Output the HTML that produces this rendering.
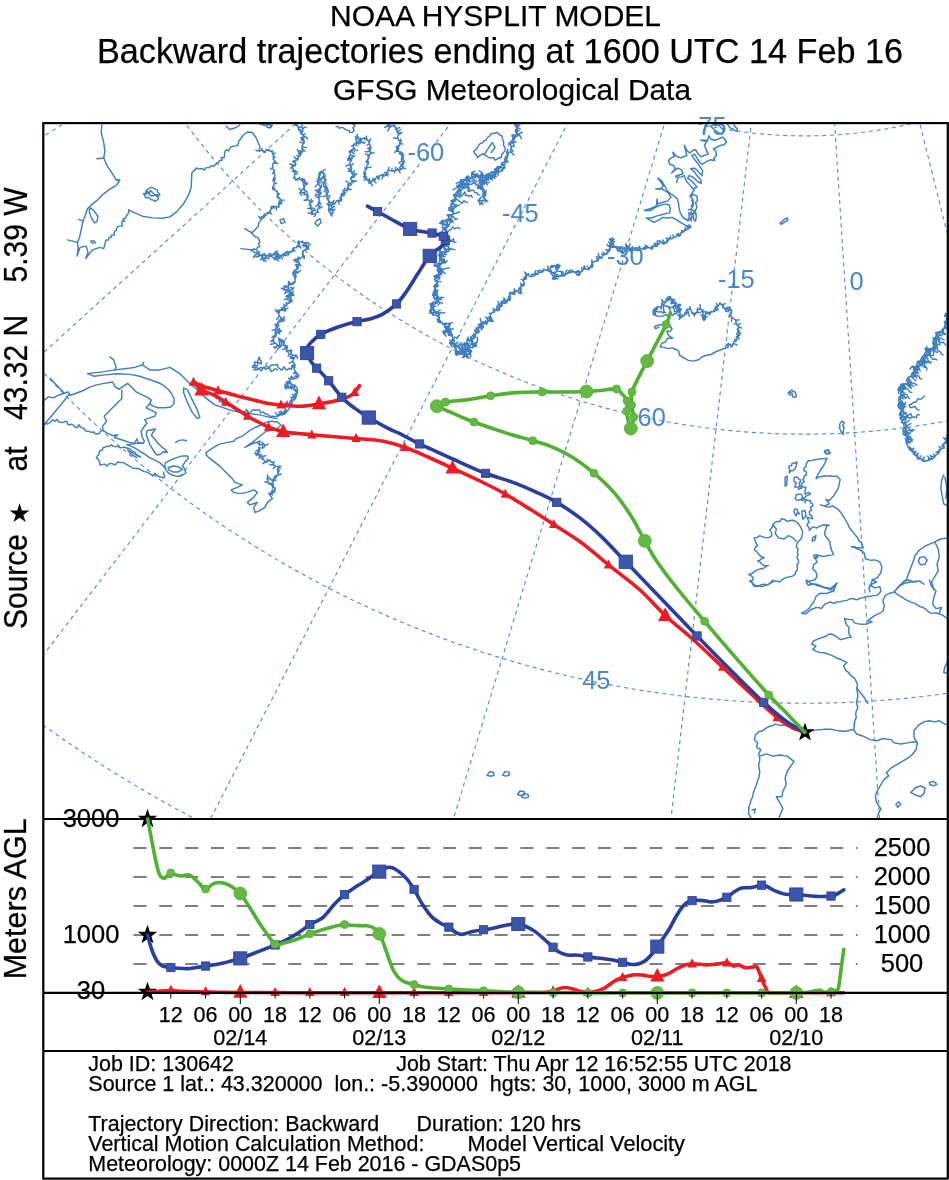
<!DOCTYPE html>
<html lang="en">
<head>
<meta charset="utf-8">
<title>NOAA HYSPLIT MODEL - Backward trajectories</title>
<style>
html,body{margin:0;padding:0;background:#fff;}
body{width:949px;height:1180px;overflow:hidden;}
svg{display:block;}
text{font-family:"Liberation Sans", sans-serif;fill:#000;stroke:#000;stroke-width:0.25px;}
.g{fill:none;stroke:#4f8ccd;stroke-width:1.1;stroke-dasharray:4 3.8;}
.c{fill:none;stroke:#3e7fc1;stroke-width:1.45;stroke-linejoin:round;stroke-linecap:round;}
.gl{fill:#4a87c8;stroke:none;font-size:25.4px;}
.tr{fill:none;stroke-width:3.6;stroke-linejoin:round;stroke-linecap:round;}
.vd{stroke:#7f7f7f;stroke-width:1.8;stroke-dasharray:13 12.8;fill:none;}
.bx{fill:none;stroke:#000;stroke-width:2.2;}
.ln{stroke:#000;stroke-width:2.2;fill:none;}
.tk{stroke:#000;stroke-width:1;fill:none;}
.t21{font-size:21.4px;}
.tl{font-size:21.6px;text-anchor:middle;}
.rl{font-size:25.5px;text-anchor:middle;}
</style>
</head>
<body>
<svg width="949" height="1180" viewBox="0 0 949 1180">
<rect x="0" y="0" width="949" height="1180" fill="#fff"/>
<text x="330" y="25.5" font-size="30" textLength="331" lengthAdjust="spacingAndGlyphs">NOAA HYSPLIT MODEL</text>
<text x="97" y="62.5" font-size="34.2" textLength="806" lengthAdjust="spacingAndGlyphs">Backward trajectories ending at 1600 UTC 14 Feb 16</text>
<text x="333" y="99.7" font-size="29.8" textLength="358" lengthAdjust="spacingAndGlyphs">GFSG Meteorological Data</text>
<defs><clipPath id="mapclip"><rect x="43.3" y="123.1" width="904.5" height="695.7"/></clipPath></defs>
<g clip-path="url(#mapclip)">
<path class="g" d="M688.4 -315.2 L-956.2 15.5"/>
<path class="g" d="M694.5 -294.8 L-864.6 324.4"/>
<path class="g" d="M704.1 -275.8 L-719.3 612"/>
<path class="g" d="M716.9 -258.8 L-525 868.9"/>
<path class="g" d="M732.6 -244.4 L-287.8 1087"/>
<path class="g" d="M750.5 -233 L-15.6 1259.3"/>
<path class="g" d="M770.3 -225 L283.1 1380.1"/>
<path class="g" d="M791.1 -220.7 L598.5 1445.7"/>
<path class="g" d="M812.4 -220.2 L920.6 1453.8"/>
<path class="g" d="M833.4 -223.4 L1238.9 1404.3"/>
<path class="g" d="M853.5 -230.4 L1543.3 1298.7"/>
<path class="g" d="M872 -240.9 L1823.9 1140.4"/>
<path class="g" d="M-780.6 -213.6 A1590.2 1590.2 0 0 0 1926.5 788.6"/>
<path class="g" d="M-499.5 -235.7 A1308.3 1308.3 0 0 0 1727.6 588.8"/>
<path class="g" d="M-233.8 -256.7 A1041.7 1041.7 0 0 0 1539.6 399.8"/>
<path class="g" d="M34.5 -277.8 A772.6 772.6 0 0 0 1349.8 209.1"/>
<path class="g" d="M331.7 -301.3 A474.5 474.5 0 0 0 1139.4 -2.2"/>
<polyline class="c" points="101.9,125 101.2,132.5 103.7,142.5 104.9,151.2 103.7,158 107.4,166.2 112.4,173.7 116.2,179.9 119.4,181.2 116.2,185.4 108.7,189.9 102.4,194.9 96.2,201.2 91.2,204.9 87.5,208.7 85,216.2 83,221.1 81.2,229.9 79.5,237.4 77.5,242.4 78,248.6 77,256.1 80,247.4 86.2,246.1 88,252.4 85.7,258.6 89.5,253.6 92.4,249.9 99.9,247.4 103.7,248.6 105.4,242.4"/>
<polyline class="c" points="105.4,242.4 105.8,239.9 108.4,239.9 109,237.8 111.2,237.4 111.2,235.3 114.5,235.1 114.1,232.8 114.9,231.1 116.4,230.1 116.7,227.9 117.9,226.6 119.9,226.1 122.4,226.1 121.8,223 122.2,220.9 124.9,221.1 123,218.9 125.7,217.8 126.2,216.2 127.6,214.3 128.8,212.4 128.7,209.9"/>
<polyline class="c" points="128.7,209.9 133.7,212.4 142.4,216.2 152.4,217.9 162.4,218.2 169.9,216.9 176.1,212.4 183.6,203.7 188.6,194.9 191.1,187.4 191.6,178.7 191.8,172.9 194.8,170"/>
<polyline class="c" points="194.8,170 196.4,168 198.5,168.9 200.4,168.6 202.3,168.7 204.5,170.1 206,167.7 207.9,167.6 209.8,167.5 211,165.7 213.5,166.4 214.8,165 216.5,163.4 218.6,162.5 219.4,160.8 222.2,160.1 221.1,157.5 224,157.9 224.4,155.8 224.8,153.7 224.9,151.7 226.1,150 228.8,150.8 229.9,148.3 231.4,146.6 233.6,146.2 235.5,145.9 237.3,145.5 238.6,143.7 238.4,141.6 239.8,140"/>
<polyline class="c" points="239.8,140 243.5,135 247.3,132 252.3,132.5 256,137.5 259.8,146.2"/>
<polyline class="c" points="103.7,158 96.9,158.7"/>
<polyline class="c" points="83,221.1 78.7,219.4"/>
<polyline class="c" points="77.5,242.4 67.5,239.9"/>
<polyline class="c" points="116.2,179.9 119.9,179.4"/>
<polyline class="c" points="143.6,193.7 146.5,194 145.8,190.9 147.2,189.7 148.6,188.7 150.6,187.5 152.4,187.6 154,188.4 155.7,189.4 157.4,189.9 157.4,192 159,193.3 159.9,194.9 157.5,195.8 158.4,198.3 157.4,199.9 155.2,201.4 153.5,200.1 151.6,199.8 149.9,198.7 148.4,197.4 145.5,197.7 144.8,195.5 143.6,193.7 145.4,193.1 147,192.4 149,193.9 150.3,190.6 152.4,192.4 153.7,193.8 155.3,194.6 157.4,194.7 158.6,196.2 156.8,196.2 155.3,194.9 153.3,195.8 151.5,196 149.9,194.9 148.7,193 147.4,191.2"/>
<polyline class="c" points="90,207.9 93.7,210.4 97.9,216.2 96.9,221.9 94.4,222.9 91.2,217.4 89.2,211.2 90,207.9"/>
<polyline class="c" points="90.7,241.1 93.7,240.6 95.4,242.9 92.4,243.1 90.7,241.1"/>
<polyline class="c" points="226.1,126.2 229.8,129.5 236.1,127.5 239.8,125"/>
<polyline class="c" points="259.8,123.7 264.8,125.5 268.5,123.7"/>
<polyline class="c" points="269.8,125 271,127.5 272.3,125"/>
<polyline class="c" points="264.8,216.2 263.8,217.6 262.2,218.6 261,219.9 259.9,221.4 258.7,222.9 258.5,224.9 257.9,227 256.2,228.4 254.8,229.9 253.3,231.7 251,232.4 252.3,233.6 253.6,235.3 255.2,236.7 257.3,237.4 258.8,238.7 259.3,240.5 259.8,242.4 258.5,243.8 259.8,246.5 257.3,247.4 256.6,250.2 253.8,248.7 252.3,249.9 251,251.1 252.9,250.4 254.4,252.6 256.2,252.5 258.1,251.4 259.8,252.4 258.5,253.9 256,254 255.2,256.3 253.5,257.4 254.8,255.3 257.1,256.6 258.9,256.2 260.6,255.6 262.3,254.9 264.4,253.6 265.9,256.2 268.1,254.9 269.8,256.1 272,256.7 273.5,258 274.8,259.9 275.1,256.7 277.9,257.5 279.8,256.9"/>
<polyline class="c" points="251,232.4 244.8,228.6"/>
<polyline class="c" points="252.3,249.9 241,248.6"/>
<polyline class="c" points="260,147.5 259,151 262.2,150.3 263.7,151.3 265,152.5 266,149.5 268,150.3 270,151.2 272.7,151 272.5,153.7 273.7,155 273.3,156.9 273.2,159 275.2,161.2 273.4,163 272.5,165 272.9,166.6 272.6,168.5 273.9,169.9 274.1,171.6 274,173.4 275,174.9 274.6,176.9 273.3,178.8 273.2,180.8 274.7,183 273.7,184.9 273.2,187 272.8,189.1 275.2,190.1 277,191.3 277.8,192.9 277.5,194.9 277.3,197.3 279.7,198.5 281.2,200.1 281.2,202.4 278.5,203.2 279.1,205.5 278.7,207.4 277.2,206.4 275.3,206.8 273.7,206.2 271,206.7 271.1,209.4 270,211.2 269.1,213.5 266.5,213.4 265,214.9 264.1,217.1 261.2,216.8 260,218.7"/>
<polyline class="c" points="257.5,256.9 259.4,255.1 261.4,254.7 263.8,260.9 265.5,257 267.5,256.1 269.3,255.4 271.2,255.5 273,254.5 275,254.9 278.5,253.9 275.5,259.3 278.7,258.6 277.4,254.8 280.8,255.7 283.7,256.1 283.7,253.6 285.8,252.6 287.8,251.4 288.7,254.9 288.9,252.4 291.6,251.8 292.5,249.9 293.4,247.7 296.2,247.9 297.5,246.1 299.6,246.2 298.7,241.1 301.6,242.4 303.7,242.4 305.6,243 307.5,242.4 306.2,244.1 304.7,245.6 308.8,249.1 305,249.9 302.8,251.1 302.6,253.4 304.5,256.7 301.2,257.4 300.1,258.9 295.7,259.1 298.7,262.1 299.7,264.4 295.6,264.8 297.5,267.4 297.6,269.1 294.7,270.2 298,272.8 292.5,273.2 295.5,275.7 295,277.3 295.1,279.8 294.9,282 293.6,283.7 291.2,284.8 288.6,281.4 288.3,287.3 286.2,286.1 283.5,289.8 287.3,289.7 289.8,290.3 290,292.3 290.7,294.7 287.9,295.8 288.4,298 287.5,299.8"/>
<polyline class="c" points="295.3,123.7 296.8,124.9 297.8,126.8 299.8,127.4 302.6,127.6 302.9,129.5 302.7,131.8 300.8,133.4 304.8,136.5 301.2,137.7 301.4,139.9 304.2,141.1 303.4,143.6 302.2,145.4 302.3,147.5 302,149.5 302.8,151.8 298.6,152.8 300.5,155.4 298.8,156.4 298.1,158.1 297.5,159.8 293.6,160.6 295.7,163.6 295.3,165.7 291.7,166.9 293.7,169.5 293.9,171.6 295.3,173.2 294.4,175.1 294.6,176.8 295.5,179.9 298.3,178.3 300.1,179.4 302,180.5 305.2,181.9 303.4,184.9 304.4,187.3 302.7,189.3 299.9,192.6 304.5,192.6 304.9,194.5 307.9,195.1 306.8,198 307.9,199.7 309.9,201.1 309.8,203.6 310.8,205.6 311,207.5 311.1,209.5 313,210.7 311.5,214.2 315.2,213.7 317.5,211.5 317.9,209.2 318.9,207 318.9,205 318.2,203 319.7,201.1 318.9,199.2 318.9,197.2 318.9,195.2 321.2,193 317.1,191.5 318.2,189.3 321.6,187.4 319.3,185.4 318.2,183.4 317,181.3 321.5,179.9 318.9,177.5 318.6,175.7 320.3,174.2 319.7,172.4 321.9,171.6 324,173.4 323.4,176.1 323.9,178 326,179.7 324.1,182 323.6,184 323.8,186 324.8,187.9 327.6,189.3 326.1,191.7 326.3,193.8 327.6,195.5 326.8,197.8 327.8,199.7 329.1,201.4 330.9,203.1 329.3,205.6 329,207.3 328.6,209 328.5,210.7 330.1,212.3 330.7,214.4 332.9,212.9 332.3,210.8 332.2,208.5 331,205.1 334.4,204.1 335.6,202 337.4,200.4 340.5,201.1 341.7,199.8 341.1,196.7 341.4,194 344,193 343.1,190.3 347,190.8 347,188.6 348.1,187.1 347.9,184.9 349.2,183.4 352.9,182.6 351.4,180.3 350.6,178.3 354.6,176.8 352.5,174.5 351.4,172.4 351,170.4 351.8,168.3 350.6,166.5 349.8,164.4 349.9,162.4 351.4,160.6 351.8,158.5 348.8,156.9 350.6,154.7 350,152.6 350.2,150.8 352.1,149.5 354,148.2 353.2,146.1 353.6,144.3 357.4,143.5 355.8,139.9 356.8,138.2 357.3,136.2 358.8,137.7 358.8,139.9 361,141.2 360.2,143.6 360.9,141.4 361.7,139.2 364.7,137.7 366.2,139.5 368.4,140.7 369.2,142.8 369.8,145.1 371,147.2 370.6,149.5 369.4,151 371.1,153.4 369.1,154.7 368.1,156.2 368.9,158.3 367.6,159.8 366,161.4 368.6,163.5 366.9,165 366.6,166.8 366.8,168.7 365.4,170.2 364.4,171.8 365.8,173.7 364.7,175.3 366.3,177.3 366.9,179.7 368.7,181.1 369.1,183.4 371.2,182.5 372,180.5 374.6,180.6 375.7,178.3 377.1,176.3 379.4,176.1 381.2,175.1 383.1,174.6 386.1,175.3 386.8,172.4 388.1,170.2 390.5,170.9 392.7,170.6 394.9,170.9 397,169.5 399.3,170.2 401.6,169.2 403,167.2 400.8,164.6 403.8,162.8 401.7,161 401.5,158.4 403.6,154.6 399.3,153.9 400.6,152 396.2,150.9 398.6,148.8 396.1,146.7 399.9,145.4 399.3,143.6 401.2,141.2 398.5,140.1 397.9,138.4 397.5,136.6 398.3,135 398.6,133.3 397.1,131.9 396.8,130 396.4,128.1 394.5,126.7 392.7,125.2 389.3,127.9 388.3,123.7"/>
<polyline class="c" points="280,219.9 283.7,218.7 285,222.4 281.2,223.6 280,219.9"/>
<polyline class="c" points="316.2,221.1 319.9,218.7 321.2,222.4 317.4,226.1 314.9,223.6 316.2,221.1"/>
<polyline class="c" points="335.9,126.6 337.7,126.5 339.2,128.3 341.1,127.4 343.5,127.9 345.5,129.6 347.2,130.2 349.2,130.5 349.9,132.5 352.6,132.4 354.3,130.3 352.9,127.8 355.1,125.9 353.9,124.3 352.1,123.7"/>
<polyline class="c" points="267.5,123.7 271.2,125 270,128 267,127 267.5,123.7"/>
<polyline class="c" points="434.8,299.8 436.4,298 437.3,296.1 433.8,293.6 433.5,291.5 436.1,289.8 434.9,287.9 433.9,286 437,283.6 436.4,281.7 434.8,279.8 435.3,278.2 434.1,276.1 436.8,275 441.8,274.5 439.2,272.1 437.3,269.9 443.3,269.6 434.1,265.5 439.1,265 440.1,263.5 443.2,262.5 439.8,259.9 440.9,258.3 438.3,254.9 441.2,254.3 439.4,251.3 446.1,252.6 444.8,249.9 443.8,247.7 446,246 443.7,243.6 447.3,242.1 446.1,239.9 449.5,237.4 443.4,236.2 441.2,234.4 446.8,231.7 444.8,229.9 443.9,227.7 449,226.4 439.8,223.2 443.6,221.6 446.1,219.9 448.5,218.9 448.7,217.1 447.4,214.7 452.8,214.8 453.7,213.3 449.8,209.9 448.9,207.7 451.7,206.8 450.7,204.5 453.1,203.5 450.9,200.8 453.6,199.9 456.1,198.9 453.4,195.1 457.7,194.9 457.3,192.4 457.9,190.6 461.1,190.6 456.8,185.6 462.8,187.5 462.3,184.9 460.7,180 468.5,186.3 465.8,180 466.1,177.3 469.8,178.7 471.6,178 471.9,172.4 474.7,174.7 477.3,176.2 479.4,176 482.6,172.9 482.4,179.7 484.8,178.7 488.6,180.3 487.3,175.1 489.8,174.9 491.3,174 491.8,171.4 494.9,172.8 494.5,169.1 497.3,170"/>
<polyline class="c" points="449.8,209.9 452.2,210.6 453.2,208.5 454.9,207.7 456.4,206.4 458.1,205.6 459.8,204.9"/>
<polyline class="c" points="453.6,199.9 455.3,200.1 457.2,199.4 458.7,200.8 460.3,201.8 461.8,203.5 464,200.8 465.6,201.8 467.3,202.4"/>
<polyline class="c" points="457.3,192.4 459,193 459.8,196 461.5,196.4 464.9,191.9 465.5,195.7 467.5,195.1 469,196.3 471.1,195.3 472.3,197.4"/>
<polyline class="c" points="462.3,184.9 464.1,185.5 465.9,186 467.3,187.2 469.1,187.8 469.1,191.5 472.1,189.8 473.8,190.7 474.8,192.5 476.8,192.7 477.8,194.6 479.8,194.9"/>
<polyline class="c" points="469.8,178.7 469.3,182 472.6,180.9 473.6,182.5 475.6,182.8 476,185.1 478.1,185.3 477.6,188.7 481.9,186.4 481.9,189 482.6,191 484,192.1 486,192.4"/>
<polyline class="c" points="477.3,176.2 478.3,177.9 480.6,178.2 481.4,180.2 481.8,182.6 485.9,180.7 486.2,183.3 487.3,184.9"/>
<polyline class="c" points="446.1,219.9 447.9,219.8 450.1,221.9 451.4,216.8 453.3,216.4 455.5,219.5 457.3,218.7"/>
<polyline class="c" points="446.1,229.9 448,232.1 449.5,229.8 451.2,229.5 452.7,227 454.6,228.9 456.3,227.9 458,227.6 459.8,228.6"/>
<polyline class="c" points="446.1,239.9 448.3,238.1 449.3,241 451.1,240.9 453.4,238.8 454.3,242.5 456.1,242.4"/>
<polyline class="c" points="444.8,249.9 446.8,250 448.8,249.7 450.8,248.9 452.8,249.1 454.8,249.9"/>
<polyline class="c" points="439.8,259.9 441.8,259.6 443.7,259.6 445.3,261.8 447.3,261.1"/>
<polyline class="c" points="437.3,269.9 438.5,273 441.1,272.4 443.6,272.3"/>
<polyline class="c" points="480,204.9 479.8,202.9 478.2,200.4 483.5,200.5 485.6,199.4 482.7,196.4 483.7,194.9 482.8,193.4 484.7,191.1 484,189.6 482,188.3 477.6,187.6 481.2,184.9 479.5,180.7 481.5,180.2 486.3,182.5 486.2,179.9 486.2,176.3 487,174.1 489.9,175.5 492.5,176.2 493.3,174.5 496,174.7 494.9,171.1 498.8,172.5 498.7,170 497.3,166.8 502.4,168 505.1,167.7 501.4,163.1 503.7,162.5 505.2,160.9 505,158.4 505.9,156.5 507.5,155 506.6,152.2 511,152 510.7,149.5 511.2,147.5 511,145.5 509,142.8 513.9,142.8 512.5,140.4 512.7,138.5 515,137.5 511.9,135 519.7,135.1 516.2,132.5 515.3,130.5 516.4,129 517.5,127.5 515.3,126.2 515,123.7"/>
<polyline class="c" points="478.8,145 480.4,143.4 482.7,142.7 484,140.7 486.2,140 487.4,137.5 489.8,136 491.2,133.7 494.4,133.3 497.5,132.5 499.3,134.5 501.9,135.8 502.5,138.7 503.4,140.8 503.7,143.1 503.6,145.5 505,147.5 505.3,150.4 503.4,152.6 501.7,154.8 501.2,157.5 499,157.9 497.1,159.2 495,160 493.5,157.6 490.9,158 488.7,157.5 486,155.9 483.7,153.7 481.4,154.5 479.4,155.9 477.5,157.5 476.6,155.2 474.8,153.4 473.8,151.2 476,149.6 477.7,147.5 478.8,145"/>
<polyline class="c" points="485,153.7 488.7,147.5 492.5,142.5 495,147.5 491.2,152.5"/>
<polyline class="c" points="510,298.6 510.3,296.3 509.4,293 514.4,294.4 515,292.3 516.6,290.5 520.3,293.7 521.2,289.8 520.2,287.4 522.2,286 524.7,284.8 523.7,282.3 523.5,279.5 526.2,278.6 526.7,273.9 530.3,276.7 532.4,276.1 534.5,275.9 535.1,273.4 537.8,274.5 538.7,272.3 540.8,272.4 542.6,271.7 544.3,270.3 546.2,269.9 549.3,271.6 550.2,267.9 552.4,267.4 554,265.4 557.8,268.8 558.7,264.9 557.2,266.5 555.5,268 557.4,271.3 554.9,272.3 550.9,273.2 554.4,277 552.4,278.6 554.8,279.5 555.7,276 558.1,276.9 559.9,276.1 561.8,275.5 564,276 565.4,273.9 567.4,273.6 569.1,272.3 571.1,272.6 572.8,271.3 574.9,272.3 577.3,275.1 579.2,275.3 580.6,272 582.4,271.1 583.6,268.9 586,268.9 588.8,269.8 589.9,267.4 592.3,267.3 591.5,264 592.5,262.5 594.1,261.6 596.1,261.1 598.2,260.5 598.5,257.6 601.6,258.3 602.4,256.1 603.7,254.6 606.1,254.3 607.7,253.2 608.6,251.1 610,249.5 610.1,247.7 611.4,246.1 610,244 611.5,242.4 611.3,240.5 611.1,238.6 611.4,240.4 613.1,241.9 613.1,243.7 608.3,246.2 612.4,247.4 614.6,247 616.9,246.6 617.4,249.9 619.5,248.7 621,250.9 622.5,253.8 624.9,251.1 626.7,249.6 628.4,247 631,251.8 632.4,246.8 634.8,249.9"/>
<polyline class="c" points="634.8,249.9 636.9,250.4 638.9,250.6 640.8,249 642.8,248.6 644.8,249.4 646.2,247.8 647.9,247.5 649.8,247.7 652.2,249.3 653.2,246.8 654.8,246.1 656.8,246.3 658.1,244.7 659.5,243.3 660.6,241.3 663.5,244 664.8,242.4 667.1,242.4 668.3,240.3 669.5,238.4 672,238.6 673.6,237.4 675.5,237.1 676.5,235.3 679.2,236.1 680.6,235 681,232.4 683.3,232.2 684.8,230.5 686.7,229.6 688.5,228.6 690.1,227.7 691,226.1"/>
<polyline class="c" points="690.6,227.5 686.8,226.2 681.7,223.1 676.7,219.9 671.6,217.4 667.8,218 662.8,217.4 659,219.9 653.9,222.4 649.5,219.9 646.3,218 651.4,218 656.4,216.1 661.5,214.8 665.3,213.6 669.7,212.9 670.3,208.5 669.1,204.7 665.3,204.1 660.2,205.4 655.2,207.3 650.7,210.4 644.4,210.4 650.7,208.5 656.4,206 657.1,199 657.7,204.1 662.8,202.2 667.8,200.9 671,197.1 668.5,193.3 665.3,190.8 661.5,188.9 655.8,188.9 661.5,188.3 663.4,185.8 660.9,182 657.7,178.2 661.5,180.7 664.7,185.8 667.2,190.8 671,194 674.1,195.9 677.3,199 678.6,203.5 679.2,208.5 680.5,213.6 683.6,218 688.1,220.5 689.3,216.1 688.7,212.9 693.1,213.6 693.7,219.9 695.6,221.2 696.3,216.1 695,211 696.9,207.3 695.6,202.2 697.5,200.9 696.9,195.9 693.1,194.6 690.6,195.9 692.5,192.1 694.4,190.2 692.5,188.3 689.9,185.1 687.4,182.6 685.5,179.4 684.3,175.6 681.7,176.9 677.9,177.5 676.7,182.6 677.9,177.5 675.4,176.3 679.2,175 683,173.7 681.7,169.9 677.9,168.1 674.1,170.6 671.6,173.1 675.4,168.1 673.5,165.5 669.7,164.3 668.5,160.5 671,157.9 674.1,156.7 672.9,152.2 676,156 680.5,157.9 683.6,156.7 686.8,155.4 685.5,150.3 684.3,145.3 687.4,151 689.9,152.9 693.1,150.3 695.6,149.7 698.2,154.1 700.7,156.7 704.5,155.4 708.3,154.1 705.8,149.1 704.5,144.7 707,141.5 700.7,140.2 707.7,140.2 708.9,135.8 710.8,139 714.6,140.2 718.4,139 722.2,137.1 724.7,139 726.6,142.1 724.1,144.7 720.9,145.3 717.1,147.2 713.3,149.1 715.9,151.6 716.5,155.4 714,157.9 714.6,160.5 710.2,159.8 706.4,161.7 702,164.3 699.4,161.7 696.9,157.9 694.4,154.1 691.8,155.4 694.4,159.2 697.5,163 700.1,166.8 702.6,170.6 702,175.6 699.4,173.1 696.9,169.9 694.4,168.1 690.6,168.7 694.4,171.8 696.9,175.6 700.7,179.4 701.3,183.2 698.2,182 695.6,179.4 692.5,176.9 689.3,175.6 687.4,178.2 691.2,180.7 694.4,183.9 696.9,187 693.1,188.9"/>
<polyline class="c" points="703.2,132.6 704.5,127.6 707,121.3"/>
<polyline class="c" points="710.8,126.3 714.6,130.1 718.4,132.6 722.2,133.9 723.5,130.1 720.9,127.6 718.4,125.1 715.9,123.2 710.8,126.3"/>
<polyline class="c" points="727.3,123.8 729.8,127.6 733.6,129.5 736.7,131.4 737.4,128.9 734.8,126.3 733.6,123.2"/>
<polyline class="c" points="689.9,195.9 691.3,197.3 692.5,199 693.1,200.9 692.4,203 693.4,205.4 691.8,207.3 691.6,209.6 694.1,211.2 693.7,213.6 690.9,214.7 692.1,217.2 690.9,219 691.2,221.2"/>
<polyline class="c" points="779.8,223.6 783.6,219.9 787.3,217.9 787.8,220.4 784.8,221.9 781.1,224.4"/>
<polyline class="c" points="189.9,383.7 179.9,373.7 169.9,367.4 159.9,369.9 149.9,369.9 142.4,364.9 134.9,367.4 124.9,368.7 114.9,369.9 102.4,371.9 93.7,372.9 87.5,373.7 93.7,376.2 104.9,374.9 117.4,373.7 129.9,374.4 139.9,376.2 149.9,379.9"/>
<polyline class="c" points="114.9,369.9 116.2,367.4 113.7,359.9 109.9,356.9"/>
<polyline class="c" points="142.4,364.9 143.6,362.4"/>
<polyline class="c" points="183.6,387.9 187.4,389.9 192.3,399.9 197.3,409.9 199.8,417.4 197.3,418.6 192.3,412.4 187.4,402.4 183.6,392.4 183.6,387.9"/>
<polyline class="c" points="189.9,383.7 196.1,388.7 202.3,394.9 209.8,401.1 214.8,404.9 222.3,407.4 229.8,409.9 239.8,412.4 249.8,413.6 259.8,414.9 269.8,417.4 277.3,418.6"/>
<polyline class="c" points="259.8,357.4 258.7,359 257.7,360.6 257.3,362.4 254.3,362 255.3,365.5 252.9,365.5 252.3,367.4 254.5,367.1 256.4,367.6 258.2,368.5 259.8,369.9 261.7,370.1 263.2,367.2 265.5,369.3 267.3,368.7 269.4,367.9 271,371.5 273.1,370.4 275.4,368.5 277.3,369.9"/>
<polyline class="c" points="293.7,287.5 292.7,289 290.5,290.1 288.7,291.3 293.9,295.2 289.9,295.6 290,297.5 292.1,300.8 290.3,302.4 287.5,303.7 286.2,305.9 283.7,306.2 285.7,310.8 282.5,310 280,310 279.4,312 278.7,314 278.9,315.9 281.2,317.5 284.2,320.5 280.7,321.5 277.4,322.5 278.7,325 277.9,326.8 276.1,328.4 281.5,331.2 277.5,332.5 276,334 275.9,336.4 273.5,337.5 273.7,340 273.9,342.5 276.2,343.7 280.1,347.5 278.8,338 282.5,341.2 284.3,341.9 283.7,344.9 285.6,345.5 287.5,346.2 286.9,348.7 286.3,351.1 291.6,350.1 291.2,352.4 291,354.9 296.1,355.3 293.7,358.7 292.6,361.1 293.7,363 294.9,364.9"/>
<polyline class="c" points="294.9,367.4 292.2,365.4 291.4,369.4 289,368.2 287.5,369.9 285.6,369.3 284.1,366.8 281.6,370.2 280,368.7 278.1,367.6 277.3,364.5 274.8,364.9 272.5,364.9 270.6,365.5 269.3,367.9 266.6,366 265,367.4 262.9,367.6 260.7,367.5 258.7,368.7 257.2,369.7 255.4,369.5 253.7,369.9 255,368.4 256,366.6 257.5,365.2 257.7,362.5 261.2,363.7 261.3,361.2 259.7,359.4 258.7,357.4"/>
<polyline class="c" points="294.9,364.9 294.4,366.9 294.2,368.9 294.9,370.7 296.2,372.4 298.9,375.9 297.4,377.7 293.7,378.7 291.4,379 289.7,380 289.9,383.5 287.5,383.7 288.3,386.9 285,387.4 286.9,387.3 288.9,388.2 290.5,386.1 292.4,386.2 294.5,386.6 293.8,389.8 296.2,389.9 297.7,392 296.7,394.1 296.2,396.1 294,396.5 294.7,399.7 292.4,399.9 290.7,400.7 291.8,404.3 288.7,403.6 285.2,402.7 286.3,406.3 285,407.4 285.5,409 286.1,410.6 286.2,412.4 284.5,413.9 282.5,414.9 280.6,414.3 278.8,414.5 277.5,416.1"/>
<polyline class="c" points="433.6,292.5 432.7,295.3 436.9,295.5 438.2,297.2 437.3,300 436.8,301.8 434.2,302.2 432.6,303.4 430,303.8 432.3,307.5 430.1,310.9 430.1,313.3 436.6,312.3 436.1,315 438,316.3 439.4,318 437.4,321.3 439.8,322.5 442.2,322.6 442.9,324.3 444.9,324.9 444.8,327.5 447.5,327.2 443.5,333.7 449.8,329.9 449.8,332.5 448.3,335 452.1,335.8 452.9,337.7 452.3,340 449.6,342.9 452.9,343.9 454.1,345.6 454.8,347.4 456.2,348.8 455.6,351.9 455.6,354.4 459.8,353.7 463.5,350.5 465.5,350.6 464.8,356.2 467.6,356.4 465.3,349.9 469.8,352.4 471.6,351.4 467.4,346.8 472.7,347.8 473.5,346.2 476.2,346.4 475.5,343.2 477.3,342.4"/>
<polyline class="c" points="437.3,300 439.5,299.5 441.1,297.4 443.5,297.5"/>
<polyline class="c" points="436.1,315 438.3,316.3 439.6,314.1 441,312.4 443.1,313.1 444.8,312.5"/>
<polyline class="c" points="444.8,327.5 446.1,326.2 449.2,327.5 449.7,325.1 450.6,323.1 452.3,322.5"/>
<polyline class="c" points="452.3,340 453.6,338.7 454.7,337.1 457.4,337.9 458.3,336 459.8,335"/>
<polyline class="c" points="454.8,347.4 455.8,345.1 458.9,348.3 459.1,343.8 461.7,345.7 463.1,344.2 464.8,343.7"/>
<polyline class="c" points="459.8,353.7 461.3,352.3 464,352.5 464.5,349.9 466,348.7"/>
<polyline class="c" points="206.2,452.4 213.7,447.4 218.7,444.4 227.4,442.4 233.7,441.2 236.2,438.7 242.4,436.2 248.7,431.2 254.9,427.5 261.1,425 266.1,422.5 271.1,421.2 277.4,422 281.1,425 277.4,428.7 272.4,430 266.1,431.2 259.9,436.2 252.4,442.4 244.9,447.4 252.4,443.7 259.9,441.2"/>
<polyline class="c" points="259.9,441.2 259.4,445.3 263.2,443.8 264.9,444.9 264.3,447 262.5,448.1 258.6,447.6 259.9,451.2 258.4,452.2 258.5,454.7 256.2,454.9 258.8,454.4 260.4,456.3 262.4,457.4 263.1,459.5 264.7,460.9 266.1,462.4 267.7,460.7 269.9,459.9 271,461.7 273.3,462.6 273.6,464.9 275.3,466.3 278.5,466.4 277.4,469.9 277.8,472.5 278.3,475.1 274.9,476.2 273.9,477.6 273.9,480.2 271.1,479.9 269.5,478.3 267.4,477.4 267.2,479.6 268.1,481.6 268.6,483.6 270.2,484.4 272,484.5 273.6,484.9 272.7,486.9 275.1,488.1 274.9,489.9 274.5,492 271.4,491.4 271.7,494.2 269.9,494.9"/>
<polyline class="c" points="269.9,494.9 272.4,498.6 267.4,502.4 264.9,507.4 258.7,511.1 254.9,512.4 253.7,507.4 257.4,502.4 249.9,504.9 247.4,502.4 253.7,497.4 257.4,492.4 253.7,489.9 247.4,492.4 239.9,493.6 233.7,492.4 231.2,489.9 237.4,487.4 242.4,484.9 234.9,482.4 232.4,478.7 228.7,474.9 224.9,471.2 219.9,466.2 214.9,462.4 210,458.7 206.2,454.9 206.2,452.4"/>
<polyline class="c" points="216.2,398.7 219.1,397.6 219.2,401.6 221.3,401.9 222.9,403.3 224.9,403.7 226.8,404.1 228,405.8 230.1,406 231.7,406.7 233.5,407.4 234.9,408.7 235.9,411.2 238.2,410 239.2,412.4 241.2,412.3 243.4,411.4 244.9,412.5 246.4,409.3 249.5,413.9 251.2,411.2 253,409.7 255.3,410.2 257.4,410 259.7,410 260.6,412.9 263.4,412 264.9,413.7 266.9,414 268.5,415.3 270.3,416.4 272.4,416.2 274.4,416.5 276.2,416.3 278.1,416 279.9,415 281.3,412.6 284.3,413.9 286.1,412.5 287.4,410.8 288.8,409.2 289.9,407.5 291.4,405.7 291.8,403.4 292.4,401.2 293.5,399.5 295.3,398.2 296.1,396.2 296.3,394.1 296.7,392 297.4,390 297.2,388 295.7,386.7 294.9,385 292.8,384.9 291.1,384.2 289.9,382.5 287.2,381.4 286.1,383.4 284.9,385"/>
<polyline class="c" points="951.8,315 945.7,313.5 945.4,315.6 948.7,320 946.4,320.9 944.4,321.9 945.5,325 944.5,326.5 944.1,328.4 942.3,329.4 941.8,331.2 938.8,332 935.6,332.8 938.3,336.5 938,338.7 932.9,338.1 936.3,342.3 932.8,342.7 933.9,345.6 933,347.4 933.1,350 928.6,348.8 925.2,348.5 926.8,352.4 926.8,354.9 924.1,354.7 925.6,358.7 923,358.6 924.9,363 920.5,361.2 917.4,361.4 920.7,365.5 916.4,365.1 916.8,367.4 912,366.2 917.4,373 913.1,372.1 911.8,373.7 911.5,376 909.2,376.7 907.8,378.1 906.8,379.9 908,383.6 905.9,384 903.1,383.7 901.8,384.9 900.9,386.8 898.7,387.8 898.1,389.9 902.7,391 900.4,393.4 901.1,395.2 899.3,397.4 898.6,399.2 898.9,401.2 900.7,403.4 898.1,404.9 898.3,406.9 899.6,408.5 904,409.1 900.6,412.4 899.2,414.9 902.8,415.8 900.2,418.7 903.1,419.9 901.5,422.5 904.9,423.4 906.3,425 905.6,427.4 903.3,428.9 903.4,430.8 906.3,433.3 904.3,434.8 906.5,436.2 906.6,438.2 908.1,439.8 906.8,442.3"/>
<polyline class="c" points="938,338.7 939.7,339.7 939.6,342.9 942.7,342.2 944.3,343.4 945.5,344.9"/>
<polyline class="c" points="933,347.4 935.6,347 937.3,347.7 937.4,350.6 939.1,351.2 940.6,352.2 941.4,354.1 943,354.9"/>
<polyline class="c" points="926.8,354.9 928.7,355.3 930.4,356 931.6,357.8 932.9,359.3 935.2,359 936.8,359.9"/>
<polyline class="c" points="920.5,361.2 921.5,362.7 924.6,362.7 924.5,365 924.2,367.3 926.7,367.8 926.8,369.9"/>
<polyline class="c" points="911.8,373.7 914.6,372.3 914.8,375.9 917.1,375.5 918.9,376.1 919.8,378.5 921.8,378.7"/>
<polyline class="c" points="906.8,379.9 908.8,380.1 910.6,380.7 911.5,383.1 913.6,382.9 915.2,384 916.8,384.9"/>
<polyline class="c" points="901.8,384.9 903.1,386.2 903.2,389 905.9,388.4 907.6,389 908.7,390.6 909.9,392 911.8,392.4"/>
<polyline class="c" points="899.3,397.4 901.5,395.7 903.6,395.8 905.3,398.4 907.6,396.1 909.3,398.6"/>
<polyline class="c" points="909.3,404.9 911,404.3 912.4,403.3 913.8,402.2 915.8,402.3 916.9,400.7 917.8,398.8 920,399.1 921.7,398.7 923,397.4 924.3,396.1"/>
<polyline class="c" points="909.3,404.9 910.1,407.4 912.2,407.4 914.7,406.5 916.1,408 917.3,409.7 919.3,409.9"/>
<polyline class="c" points="900.6,412.4 902.7,412.1 904.4,413.4 906,414.7 907.8,415.6 910.6,413.5 911.8,416.1"/>
<polyline class="c" points="903.1,419.9 904.9,419.3 906.4,417.9 908.1,417.1 910.5,418.3 912.1,417.2 914,416.8 916.3,417.9 917.2,414.5 919.3,414.9"/>
<polyline class="c" points="905.6,427.4 907.5,427 909.1,428.3 910.3,430.5 912.5,429.7 914.3,429.9"/>
<polyline class="c" points="904.3,434.8 906.3,435.1 907.2,437 907.4,440 910.7,438.2 911.8,439.8"/>
<polyline class="c" points="788.2,392.4 790.2,391.3 791.9,389.9 792.8,391.5 795,391.8 795.7,393.6 796.3,396.8 793.2,397.4 792.3,394.6 789.4,394.9 788.2,392.4 790.5,392.3 792.4,393.6"/>
<polyline class="c" points="839.4,424.9 840.6,422.9 841.9,421.1 844.4,422.5 842.6,425.6 844.4,427.4 843.6,429.1 843.3,431 843.1,432.9 843.1,434.8 842.3,433.2 841.1,431.7 840.6,429.9 839.4,428.4 840,426.5 839.4,424.9"/>
<polyline class="c" points="824.4,451.1 828.1,449.8 829.4,453.6 825.6,453.6 824.4,451.1"/>
<polyline class="c" points="652.9,313.2 654.5,312.7 653.9,309.8 654.8,308.5 657.3,308.8 657.3,306.6 660.9,307.4 661.8,305.9 661.7,303.6 662.8,301.4 664.9,301.4 666.9,301.4 666.9,299.8 667.3,298.3 668.4,297 670.5,296.4 670.7,299.6 672.8,299.2 670.8,303.7 674,302.9 676.5,302.9 673.7,306.1 680.6,304.5 678.7,307.3 679.4,308.7 676.2,311.4 680.2,311.7 680,314.1 677.9,315.4 680.4,316.6 679.4,319.1"/>
<polyline class="c" points="653.6,313.9 655.4,314.3 655.6,310.4 658,312.1 659.5,311.7 661.5,311.8 663.3,313.1 665.4,312.5 663.8,311.4 663.8,309.6 663.2,308 663.5,304.9 666.2,306.6 667.6,305.8 668.3,307.3 670,308.3 669.8,310.2 669,306.9 672,307.4 673.5,306.6 673.6,308.3 674.4,309.9 674.3,311.7 676.2,311.5 677.2,313.2 675.7,313.9 673.8,313.8 672.8,315.4 670.9,314.5 668.7,315.9 666.9,314.7 665.1,315 663.5,316 661.7,316.1 659.7,316.1 657.7,316.4 655.8,315.4 653.8,315 652.9,313.2"/>
<polyline class="c" points="679.4,319.1 681.6,316.9 684.6,315.4 684.6,313.2 688.6,312.4 686.8,309.5 689.7,308.8 691.5,310.7 692,313.2 694.9,314.7 696,313 697.4,311.5 697.9,309.5 700.8,308.8 701.8,311.1 703,313.2 702.7,315.1 704.3,316.8 703.6,318.7 703.8,320.6 705.3,319.1 705.8,317.3 705,315.2 705.6,313.5 706,311.7 708.3,312.6 709.7,314.7 710.4,312.4 712.6,311.7 714.6,311.3 716.3,310.2 715.3,307 718.5,305.8 719.9,302.9 722.2,305.1 722.9,307.5 725.2,308.8 725.9,311 728.1,311.7 729.6,310.2 731.8,310.2 731.4,312.6 730.3,314.7 731.4,316.8 733.3,318.4 735.6,320 736.2,322.8 737.2,325.3 739.2,327.2 737.3,329.2 739,331.1 739.2,333.1 739.4,335.4 737.3,336.9 737,339 736.3,341 733.8,341.4 733.3,343.4 732.6,346.1 728.1,343.5 728.1,347.1"/>
<polyline class="c" points="728.1,347.1 722.2,349.3 716.3,351.5 711.1,354.5 706.7,355.2 702.3,356.7 698.6,359.7 693.4,361.1 688.3,360.4 683.1,357.4 679.4,355.2 678.7,350.8 675.7,349.3 672,347.9 667.6,348.6 663.9,347.1 660.2,347.1 661.7,343.4 665.4,342 667.6,338.3 672.8,338.3 668.4,335.3 666.9,330.9 669.8,331.6 672,328.7 669.8,325.7 665.4,324.3 659.5,325 655.8,325.7 654.3,327.2 655.8,328.7 658.8,327.2"/>
<polyline class="c" points="808.3,460.8 811.6,460.4 814.9,459.7 818.2,459.3 821.5,458.6 824.3,458.9 827,458.2 826.1,460.7 824.8,463 823.5,466 821.5,468.5 819.8,471.3 818.2,474 816,478.5 819.1,476.9 822.6,476.2 825.1,475.7 827.7,476.1 830.3,475.8 833.6,476.4 836.9,476.2 840.2,479.6 839.5,482.3 839.1,485.1 838.3,487.9 836.9,490.6 835.2,493.3 833.6,496.1 831.4,498.3 829.2,500.5 825.9,499.4 827.8,501.4 829.2,503.8 824.8,506 820.4,504.9 823.8,505.7 827,507.1 829.8,506.8 832.5,506 835.3,507.6 838,509.3 840.3,511.9 842.4,514.8 844.1,517.5 845.7,520.3 847.6,523.5 849,526.9 851.1,529.7 853.4,532.4 855.4,535.3 857.8,537.9 858.8,540.6 861.1,542.3 862.2,545.1 863.3,547.8 860,547.8 857,547.8 854.2,546.7 851.2,546.7 854.3,547.4 857.1,548.9 860,550 862.5,551.4 864.4,553.3 864.7,556.1 865.5,558.8 868.8,559.9 871.6,560.2 874.3,559.9 877.3,560.6 879.8,562.1 881.1,564.8 882,567.6 881.2,570.3 880.9,573.1 879,575.1 877.6,577.6 875,578.8 872.1,579.8 876.5,582 872.1,584.2 868.8,587.5 869.9,591.9"/>
<polyline class="c" points="808.3,460.8 807.1,462.5 806.1,464.2 806.1,466.3 804.1,468.1 803.9,470.7 806.5,472.2 806.1,475.1 804.2,476 804,478.2 802.8,479.6 804.3,481.8 801.5,483.1 801.7,485.1 802.6,487 806,487.4 805,490.6 805.2,494.3 808.8,492.4 810.5,493.9 808.4,495.1 806.1,496.1 804.4,498.2 801.7,498.3 801.9,500.4 805.9,499.7 805,502.7 806,499.8 808.3,500.5 810.5,500.5 810.3,502.7 812.7,503.9 812.7,506 810.5,507.2 811.4,510.2 809.4,511.5 809.6,514.1 811.6,515.9 812.6,518.9 807,517.1 808.3,520.3 809.1,522.4 807.3,523.9 807.2,525.8 809,527.6 809.4,530.2"/>
<polyline class="c" points="809.4,530.2 812.7,526.9 817.1,528 820.4,525.8 824.8,524.7 829.2,525.1 826.5,526.3 825.9,529.1 824.8,531.7 824.8,534.6 826,537.1 828.1,539 829.7,541.6 830.3,544.5 830.7,547.3 831.4,550 833.6,554.4 830.9,555.1 828.1,555.5 823.7,556.6 821,555.7 818.2,555.5 814.9,557.7 817.1,562.1 813.8,564.3 812.7,568.7 816,572 817.1,576.5 814.9,579.8 810.5,580.9 806.1,582 808.3,585.3 812.7,584.2 816.1,584.1 819.3,585.3 822,586.4 824.8,587.5 827.6,587.8 830.3,588.6 832.4,586.8 834.7,585.3 836.9,583.1 835.4,585.8 834.2,588.7 833.6,591.9"/>
<polyline class="c" points="788.5,467.4 789.5,465.9 791.6,465.7 792,463.4 794,463 795.7,462.8 797.3,461.9 796.3,464 796.2,466.3 795.3,468 794.3,469.5 792.9,470.7 790.4,470.6 789.6,472.9 789.4,471.1 789.8,469.1 788.5,467.4"/>
<polyline class="c" points="785.1,477.3 787.3,476.2 786.7,485.1 785.1,486.2 785.1,477.3"/>
<polyline class="c" points="794,479.6 794.5,476.9 797.3,477.3 798.6,478.9 800.8,480.2 799.5,482.9 799.5,485 800.9,486.5 801.7,488.4 799.9,488.5 798.4,489.5 799.1,486.6 795,487.4 795.1,485.1 796.7,482.8 794,481.4 794,479.6"/>
<polyline class="c" points="796.2,495 798.3,494.2 800.6,493.9 801.9,495.4 802.8,497.2 802.3,499.5 799.9,499.5 798.4,500.5 796.4,499.9 795.1,498.3 795.9,496.7 796.2,495"/>
<polyline class="c" points="794,511.5 794.6,508.9 797.3,509.3 797.6,511.9 799.5,513.7 796.9,513.4 796.2,515.9 794.8,513.8 794,511.5"/>
<polyline class="c" points="801.7,511.5 805,510.4 806.1,515.9 802.8,519.2 801.7,511.5"/>
<polyline class="c" points="824.8,450.9 828.1,449.8 830.3,453.1 827,454.2 824.8,450.9"/>
<polyline class="c" points="812.7,537.9 816,535.7 814.9,540.1 812.2,541.2 812.7,537.9"/>
<polyline class="c" points="813.8,555.5 817.1,554.4 817.5,557.7 814.4,558.2 813.8,555.5"/>
<polyline class="c" points="754.3,537.9 757.3,537.4 759.8,535.7 761.9,536.7 764.2,537.1 766.4,537.9 769.4,537.4 771.9,535.7 771.4,532.7 769.7,530.2 771.8,527.7 773,524.7 774.9,522.6 777.4,521.4 779.9,521.4 781.5,518.8 784,519.2 787.3,521.4 790,520.5 792.9,520.3 795.2,521.2 797.3,522.5 799,524.7 800.6,526.9 801.8,529.6 802.8,532.4 802,535.1 801.7,537.9 800.2,539.8 798.4,541.2 797.1,543.9 796.2,546.7 798.2,549.2 797.3,552.2 798.1,554.7 796.9,557.5 798.4,559.9 798.6,562.6 796.9,565 797.3,567.6 797.3,570.1 795.7,572 795.1,574.3 791.8,576.5 789,576.9 786.2,577.6 784,578.6 781.8,579.8 779.4,582.1 776.3,580.9 773.3,581.3 770.8,583.1 768.7,584.1 766.6,584.6 764.2,584.2 761.2,584.6 758.7,586.4 755.8,586.5 753.2,585.3 752.1,582.6 749.9,580.9 752.6,580.3 753.2,577.6 751.1,575.8 748.8,574.3 751.4,573.8 753.4,572.4 755.4,570.9 758.1,569.6 760.9,568.7 763.8,568.3 766,566.4 768.6,565.4 766.3,565.6 764.1,565.5 762,564.3 760.2,562.1 757.6,561 759.9,560.1 761.8,558.5 764.2,557.7 761.2,556.6 758.7,554.4 756.8,551.9 754.3,550 755.4,547.4 757.6,545.6 756.3,543.5 755.4,541.2 754.3,537.9"/>
<polyline class="c" points="773,524.7 776.3,529.1 775.2,533.5 778.5,537.9 784,539 788.5,535.7 792.9,537.9 796.2,541.2"/>
<polyline class="c" points="904.1,434.4 905.8,433.4 907.4,432.2 909.6,433.7 911.1,431.6 912.9,431.1"/>
<polyline class="c" points="905.2,438.8 906.3,440.4 906.1,442.5 906.8,444.2 907.8,445.9 908.5,447.6 909.3,449.1 910.5,450.4 912.2,451.3 913.2,452.6 914,454.2 915.6,455.3 917,456.5 917.6,458.9 920.1,458.7 921.7,459.7 923.3,461.4 925.2,461.3 927.2,460.8 929,460.3 930.4,458.9 932.4,458.9 933.8,457.5 935.1,456 936.4,454.6 938.1,453.6 939.3,452 940.1,450.2 941.2,448.5 944.2,448.1 943.7,445.4 944,443.5 946.9,442.9 945.8,440.2 947,438.8 947.9,436.8 950.3,435.8 950.3,433.3"/>
<polyline class="c" points="943.7,475.1 941.5,480.7 940.9,488.4 942.2,496.1 943.7,503.8 948.1,506"/>
<polyline class="c" points="944.8,477.3 947,487.3 945.9,498.3"/>
<polyline class="c" points="894.2,591.9 900.8,584.2 906.3,579.8 909.6,570.9 912.9,562.1 915.1,555.5 919.5,550 926.1,545.6 933.8,542.3 940.4,539 948.1,537.9"/>
<polyline class="c" points="934.9,542.3 938.2,548.9 939.3,556.6 937.1,564.3 938.2,570.9 934.9,576.5 931.6,582 933.8,589.7"/>
<polyline class="c" points="919.5,557.7 923.9,556.6 927.2,559.9 925,564.3 920.6,564.8 918.4,561.7 919.5,557.7"/>
<polyline class="c" points="903,582 907.4,579.8 914,582 919.5,580.9 923.9,584.2"/>
<polyline class="c" points="806.1,580 808.5,581.3 810.5,583.3 813.9,584.1 817.1,585.5 820.5,586.3 823.7,587.7 827.1,588.3 830.3,589.9 832.8,588 834.6,585.4 836.9,583.3 835.3,585.8 834.4,588.7 832.5,591 829.8,592.3 827,593.2 823.7,593.5 820.4,593.2 818.1,594.7 816,596.5 815,599.3 813.8,602 812,604.2 810.5,606.4 808.5,608.9 806.1,610.8 801.7,613 805,614.1 807.9,612.1 810.5,609.7 813.3,608.8 816,607.5 818.8,607.6 821.5,608.6 823,606.3 824.8,604.2 827.5,603.1 830.3,602 833.6,603.4 836.9,602 840.2,601.7 843.5,600.9 847,600.4 850.1,598.7 853.5,598.8 856.7,599.8 859.9,598.3 863.3,597.6 866.5,596.5 869.9,596.5 873.2,595.6 876.5,595.4 879.1,593.6 880.9,591 879.8,586.6 877.1,587.4 874.3,587.7 869.9,585.5 872.1,581.1"/>
<polyline class="c" points="749.9,581.1 755.4,585.5 762,586.6 768.6,584.4 773,580"/>
<polyline class="c" points="950.3,619.2 947.3,618.7 945,617 942.6,615.2 939.4,613.8 936,613 933.3,613.1 930.5,613 927.6,611.1 925,608.6 922.4,607.2 919.5,606.4 916.9,604.6 914,603.1 911.1,602.4 908.5,600.9 905.5,599.7 903,597.6 900.1,596.1 897.5,594.3 894.2,592.1 889.8,593.2 885.4,595.4 883.1,599.8 883.2,602.7 884.3,605.3 883.7,608.1 883.1,610.8 880.6,612.8 877.6,614.1 874.8,615.6 872.1,617.4 870,619.2 867.7,620.7 872.1,621.8 869.3,622.8 866.6,624 863.3,624.3 860,624 857.3,623.6 854.5,622.9 852.3,619.6 849.7,619.5 847.1,619.2 844.6,618.5 845.7,622.9 847,625.4 849,627.3 848.8,630.7 849,634 851.2,637.3 848.4,637.4 845.7,638.4 843,639 840.2,639.5 838.1,637.7 835.8,636.2 831.4,634 828.4,634.4 825.9,636.2 822.7,637.5 819.3,638.4 816.6,639.7 813.8,640.6 811.6,643.9 816,646.1 812.7,649.4 817.1,651.6 820.3,652.6 823.7,652.7 827,653.7 830.3,654.9 833.7,656.3 836.9,658.2 839.8,659 842.4,660.4 846.8,662.6 843.5,665.9 845.7,670.3 848.2,672.2 850.1,674.7 852.1,676.7 854.5,678 856.7,682.4 857.6,685.2 856.7,687.9 857.1,691.2 857.8,694.5 857.7,697.5 856.8,700.4 856.7,703.3 857.8,707.7 856.3,710.9 855.6,714.3 856.4,717.4 855,720.2 854.5,723.1 854.2,726.5 853.4,729.8"/>
<polyline class="c" points="856.7,687.9 860,692.3 864.4,697.8 867.7,703.3"/>
<polyline class="c" points="894.2,592.1 898.6,586.6 904.1,583.3 909.6,582.2 916.2,581.1"/>
<polyline class="c" points="929.4,580 931.6,586.6 936,591 933.8,597.6 932.7,604.2 936,608.6 941.5,607.5 939.3,613"/>
<polyline class="c" points="947,662.6 944.8,667 943.7,672.5 948.1,673.6"/>
<polyline class="c" points="853.4,729.6 850.6,730 847.9,730.7 845,731.2 842,731.2 839.1,730.7 836.1,730.4 833.2,729.6 830.3,729.2 827.4,729.3 824.4,729.1 821.5,729.6 818.5,729.7 815.6,730.1 812.7,730.7 810.1,730 807.5,731 805,730.7 802.5,729.8 799.7,729.6 797.3,728.5 794.6,728 792,727.5 789.6,726.3 787,725.8 784.4,725.4 781.8,725.2 778.5,725.1 775.2,724.1 772.7,725.7 769.7,726.3 766.8,727.7 764.2,729.6 761.6,731 758.7,731.8 755.4,735.1 754.3,739.6 757.6,742.9 756.5,747.3 760.9,749.5 758.7,753.9 759.8,758.3 759.5,761.6 758.7,764.9 759,768.2 759.8,771.5 759.3,774.8 758.7,778.1 757.4,781.3 756.5,784.7 755.3,787.6 754.2,790.5 753.2,793.5 752.6,797 751,800.1 750.2,803.5 748.8,806.7 748.9,810 748.4,813.3 749.6,815.5 751,817.7 752.1,819.9"/>
<polyline class="c" points="759.8,756.1 766.4,753.9 773,756.1 779.6,755 787.3,756.1 794,761.6 790.7,766 787.3,771.5 785.1,778.1 786.2,784.7 782.9,791.3 781.8,796.8 776.3,796.8 779.6,802.3 782.9,808.9 780.7,813.3 778.5,819.9"/>
<polyline class="c" points="752.1,810 755.4,808.9 754.3,813.3"/>
<polyline class="c" points="853.4,729.6 856.7,734 863.3,736.2 869.9,739.6 876.5,740.7 883.1,738.5 890.9,739.6 894.2,742.9 900.8,744 907.4,742.9 914,741.8 917.3,742.9 916.2,749.5 911.8,755 907.4,758.3 901.9,761.6 896.4,764.9 890.9,768.2 886.5,772.6 888.7,775.9 884.3,779.2 880.9,784.7 877.6,790.2 875.4,795.7 876.5,802.3 880.9,808.9 878.7,813.3 876.5,819.9"/>
<polyline class="c" points="917.3,742.9 914,737.3 914,730.7 918.4,725.2 923.9,721.9 929.4,720.8 934.9,721.9 939.3,720.8 944.8,724.1 950.3,725.2"/>
<polyline class="c" points="910.7,792.4 915.1,788 920.6,785.8 925,788 923.9,793.5 920.6,796.8 916.2,795.3 910.7,792.4"/>
<polyline class="c" points="929.4,782.5 933.8,781.4 936.7,784.3 933.8,785.8 929.8,784.7 929.4,782.5"/>
<polyline class="c" points="895.9,804.5 899,801.9 900.8,804.1 897.7,807.2 895.9,804.5"/>
<polyline class="c" points="487,775.3 489.5,771.8 493.5,772.3 494,775.3 490.5,776.3 487,775.3"/>
<polyline class="c" points="502.5,775.1 505,771.6 509,772.1 509.5,775.1 506,776.1 502.5,775.1"/>
<polyline class="c" points="521.5,797.1 524,793.6 528,794.1 528.5,797.1 525,798.1 521.5,797.1"/>
<polyline class="c" points="517.5,794.5 520,791 524,791.5 524.5,794.5 521,795.5 517.5,794.5"/>
<polyline class="c" points="460.1,354.3 462.5,353.7 463.7,351.9 461.8,347 466.1,348.3 464.5,344.7 469,345.9 466.9,341.9 467.2,339.8 473,342.1 470.7,337.9 474.1,338.3 475.2,336.8 475.2,334.5 476.5,333.1 478.7,332.5 478.9,330.3 477.7,327 482.1,328.2 483.4,326.7 481.6,322.8 486.6,324.1 487.5,322.3 488.1,320.2 493.1,321.5 490.3,316.8 490.5,314.5 491.7,312.9 494.1,312.2 495,310.1 498,310.7 499.7,309.6 499.5,306 502.1,306.2 501.1,301.5 505,303.3 506.9,302.5 507.4,299.8 510.2,300.2"/>
<polyline class="c" points="50.1,378.3 63.6,392.6"/>
<polyline class="c" points="44.2,424.7 69.5,394.3"/>
<polyline class="c" points="40,401.9 44.2,400.2 48.4,396.9 53.5,397.7 58.5,395.2 63.6,393.5 67.8,391.8 70.3,395.2 75.4,393.5 82.2,391 88.9,387.6 95.6,385.1 104.1,383.4 112.5,382 115,386.7 119.2,389.3 122.6,386.7 127.7,383.4"/>
<polyline class="c" points="121.8,390.1 121.8,398.5 104.1,416.3 106.6,421.3 102.4,426.4 103.2,430.6"/>
<polyline class="c" points="127.7,383.4 131.9,387.6 136.1,391.8 142.8,395.2 147.9,397.7 151.3,400.2 149.6,403.6 153,406.1 158,407.8 164.8,407.8 170.7,407 174,403.6 174,398.5 171.5,393.5 168.1,389.3 163.1,385.1 158,382.5 153,380.8 149.6,379.2"/>
<polyline class="c" points="149.6,403.6 146.2,407.8 151.3,410.3 156.3,412.9 154.7,416.3 149.6,417.9 144.5,419.6 147.1,423 143.7,427.2 141.2,431.4 142,436.5 144.5,441.5 142.8,443.2 137.8,442.4 136.9,439"/>
<polyline class="c" points="40,425.9 42.1,425.1 44.2,424.7 45.6,423.3 47.7,424 49.3,423 51,421.7 52.6,419.7 55.2,421.3 57.3,419.2 58.6,421.8 60.2,422.2 62,422.5 63.7,422.1 65.3,421.3 67.1,421.9 67.6,424.2 69.5,424.7 71.8,424.2 73.7,425.5 75.8,427.5 77.5,427.5 78.8,424.7 79.8,426.2 81.2,427.4 83,428.1 84.5,429.1 85.4,430.8 87.2,431.4 89,431.3 90.6,432.1 92.3,432.3 94.2,432 95.4,434 97.3,434 99.4,433.4 100.3,431.2 102.4,430.6"/>
<polyline class="c" points="103.2,430.6 107.4,433.1 112.5,435.6 117.6,434.8 114.2,437.3 119.2,439 124.3,440.7 129.4,442.4 134.4,443.2 136.9,439"/>
<polyline class="c" points="126.8,444.9 131.9,444.1 137.8,443.2 142.8,443.2"/>
<polyline class="c" points="140.3,456.7 138,455.9 136.1,454.2 135.2,452.5 133.5,451.6 131.9,450.8 130,449.1 127.7,448.3 126,447.7 124.4,447.1 122.6,447.4 120.3,447.9 118.2,446.3 115.9,446.6 113.6,446.4 111.4,444.8 109.1,446.6 107,446.1 105.2,447.2 103.2,447.4 102.4,450 99.9,450.8 99.2,452.6 98.9,454.6 97.3,455.9 96.4,458.1 98.4,459.3 99,460.9 99.9,462.9 99.9,465.1 101.5,464.6 103.2,464.4 104.9,464.3 107.2,466.1 108.9,463.9 110.8,463.5 112.5,463.6 114.1,464.8 115.9,464.3 117.4,462.2 119.6,462.3 121.8,462.6 123.7,462.5 125.1,463.9 126.8,464.3 128.7,465.9 131,466.8 132.8,468.2 134.9,468.4 136.9,468.5 139.2,468.8 141.1,469.8 142.8,471 144.5,471.7 146.4,471.9 148,472.6 149.6,473.6 151.2,474.3 152.6,476 155.1,473.2 156.3,475.3 158.1,475.7 159.5,477.1 161.4,476.9 163.5,478.1 164.8,476.1 163.5,474.2 163.9,471.9"/>
<polyline class="c" points="140.3,456.7 136.1,455 131.9,452.5 127.7,450 131.9,455 136.9,457.6"/>
<polyline class="c" points="127.7,444.9 133.6,447.4 139.5,450.8 144.5,454.2 149.6,457.6 154.7,460.1 159.7,462.6 162.2,465.1 164.8,467.7"/>
<polyline class="c" points="147.1,430.6 151.3,429.7 155.5,428.9 153,432.3 151.3,435.6 154.7,439 158,443.2 161.4,446.6 165.6,450 167.3,452.5 163.1,451.7 160.6,454.2 157.2,455 154.7,452.5 152.1,448.3 149.6,444.1 147.9,439 146.2,434.8 147.1,430.6"/>
<polyline class="c" points="165.6,462.6 170.7,460.1 176.6,457.6 182.5,455.9 187.5,455.9 188.4,458.4 185,461.8 182.5,466 185,469.4 185.8,472.7 182.5,475.3 177.4,476.4 172.4,475.3 168.1,472.7 165.6,469.4 164.8,465.1 165.6,462.6"/>
<polyline class="c" points="168.1,467.7 173.2,466 178.3,466.8 182.5,469.4 178.3,471.9 173.2,471.9 169,470.2 168.1,467.7"/>
<polyline class="c" points="175.7,442.4 179.1,440.4 183.3,439.9 186.3,440.7"/>
<path class="c" stroke-width="1.1" d="M259.1 150.7L257.1 150.8 255.9 150.1M262.5 150.5L261.7 149.9 262.1 148.4M265.1 152.1L264 151.9 263.1 151M267.6 150.2L267.7 150.3 269 149.3M271.8 151.1L271.9 151.9 272.8 153.5M272.9 154L273.7 154.2 275.1 153M273.4 156.4L274 156.7 275.2 157.6M274.9 161.5L276.1 163 277.5 163.3M273.7 162.7L274.7 163 276.9 163.6M272.7 167.6L272 168 270.5 169.2M274.1 171.7L273.9 172 272.6 173.4M274.1 173.5L274 172 274.8 170.5M274.1 177.6L274.1 179 274.3 180.7M273.2 180.8L274.9 179.7 275.3 178.3M274.4 183.5L276.1 183.6 276.7 183.3M272.9 189.1L273.2 187.9 272.7 187.1M274.6 189.9L274.5 188.3 273.9 188.1M276.9 191.3L277.5 192.1 277.2 193.9M277.6 194.1L278.8 194.3 279.6 193.8M277.3 197.2L278.3 197.1 279.4 198.1M279.1 198.2L278.1 196.9 277.9 195M280.4 199.2L280.3 199.5 279.6 200.9M281.2 201.5L282.3 200.1 284.3 200.1M279.8 202.8L279 202.3 278.8 201.6M278.9 204.4L281 203.9 281.8 202.9M276.3 206.6L276.3 208.1 276.4 210M271.9 206.5L273.1 207.5 274.3 207.9M271.1 208.6L272.3 208.2 272.9 206.7M270 211.1L270.6 212.9 271.5 214.1M266.9 213.4L267.5 212.2 268.1 212.4M263.5 217.1L263.3 216 264.3 214.4M260.1 218.5L259.8 217.7 258.8 216.6M259.3 255.2L258.1 253.6 257.5 253.1M262 256.3L264 255.4 264.8 255.2M262.4 257.4L261.7 259 260.9 260M262.8 258.4L261.7 258.4 260.9 259.2M263.7 260.4L264.9 260.5 266 261.2M264.9 258.4L266.1 258.1 268.6 258.9M265.5 257L264.8 257.9 262.9 257.8M269.5 255.4L269.4 257.2 268.3 258.5M271.8 255.2L270.8 254 269.3 253.5M273.7 254.6L273.8 253.9 274.7 252.3M275.9 254.6L275.8 252.1 276.9 250.8M277.7 254.1L276.5 255.4 276.1 256.8M277.5 255.7L277.7 256.4 279.1 258M276.7 257.1L279 257.1 280 258.2M276.6 259.1L277.8 260.5 278.7 260.7M278.1 256.7L279.1 256.4 281 255.5M277.8 254.9L277.9 253.8 276.8 251.3M281.5 255.8L281.3 257.3 282.4 258.9M283.7 255.5L285.4 255 287.1 255.8M283.7 254.3L283 254.6 282.1 254.5M286.5 252.2L288.1 253.2 289 253.3M288.5 253.8L287.2 253.9 285.3 254.2M288.9 252.6L287.2 252.1 285.4 252.1M291.7 251.8L290.8 251.4 289.8 251.7M292.6 249.6L293.9 249.6 295 250.9M294 247.7L293.1 249.1 293.3 251.6M297.4 246.2L299.8 246.7 300.9 247.9M299 246.2L299.1 245 298.1 242.6M299.3 244.3L298.8 244.8 297 246.4M298.8 241.5L297.6 242 297.8 243.2M301.5 242.4L302.4 241.2 302.6 241M304.9 242.8L304.4 243.4 302.8 245.2M307.4 242.5L308.8 243.3 310.2 244.8M305.4 244.9L307.4 246 308.6 245.9M305.4 246.2L304.8 245.9 303.4 246.5M307 247.5L306.8 246.6 307 245.8M308 248.4L308.7 246.3 308.5 245.4M305.6 249.7L306.1 248 307.6 246.3M303 251.1L302.3 252.8 303 253.8M303.2 254.4L302.4 255.8 302.4 256.2M304 256.8L304.3 257.1 304.1 258.6M300.3 258.6L299 258 298 257.1M299.1 258.9L298.5 260.1 298 260.6M298 259L298.3 259.6 297.8 260.7M295.8 259.2L295.2 259.6 294.3 260.4M296.8 260.2L295.5 260.7 293.4 260.3M299 262.9L297.9 262.8 295.9 262M298.9 264.5L299.7 264.5 300.7 266M296.5 264.7L297.8 266.1 298.6 267.9M296.5 265.9L298.2 265.5 298.6 264.6M297.6 268.9L297.2 268.6 296.5 267.7M294.8 270.3L294 270.9 292.7 272.9M296.3 271.5L294.9 272.4 293.5 272M297.8 272.7L298.6 271.7 300.6 270.5M295.3 273L295.7 275.5 296.3 276.7M293 273.7L293.5 272.4 294.5 271.4M295.3 276.4L294.8 276.4 293.2 275.8M295 278.5L295 277.1 296.3 276.8M294.8 282L293.6 282.3 292.6 282.4M292.3 284.3L290.4 283.6 288.7 283M289.8 283L290.1 284.4 289.6 284.7M288.5 283.7L289.5 283.9 290.2 284.1M288.4 285.2L289.1 284.5 290.2 284.8M288.3 287L286.6 286.8 285.2 286M286.4 286.2L284.5 286.1 283.2 287M284.1 288.9L283 288.9 281.2 288.3M286.4 289.7L285.7 291.3 285.6 291.5M288.1 289.9L288.1 288.5 288.8 288.5M290.1 292.7L290.3 292.7 291.7 292.3M290.4 293.8L289.1 294.2 288.2 294.6M288.8 295.4L289.1 297.2 288.4 298M288 296.3L287.4 296.4 286 297M287.5 299.7L286.3 299.1 284.2 299.4M297.1 125.5L295.6 125.4 295.4 125.1M298.8 127.1L298.3 128.6 299 130.9M301 127.5L302 125.9 302.3 124.8M302.8 128.8L304.3 127.5 306.1 127.2M302.4 132L300.7 130.4 299.6 129.3M301.4 133.9L300.5 132.1 301 129.9M303 135.1L304 134 305.3 133.9M304.6 136.6L306.6 137.5 307.5 138.9M302.1 137.4L303.2 139.2 302.9 140.5M301.2 137.7L302.5 137.5 303.6 137.8M302.3 140.3L303.3 139.4 303.9 139.5M303.9 140.9L304.3 142 304 143.1M303.4 143.6L301.3 142.4 299.7 142.3M302.3 146.3L304.2 147.4 306.3 147.5M302.1 148.5L304.2 150.5 305.1 151.2M302.6 151.2L300.5 151 298.7 151.1M300.8 152.3L299.6 152.9 299.2 154.4M299.6 152.6L298.3 151.3 297.1 149.3M299.2 153.7L299.6 153.5 301.2 153.4M300.3 155.1L300.6 154.4 301.4 153.4M298.7 156.6L297.4 155.7 296.9 155.5M297.8 159L296 158.4 294.1 156.8M297 159.9L297.7 159.5 298.3 157.8M294.8 160.4L294.7 161.8 295.6 162.4M294.2 161.4L293.9 162.1 292.5 161.6M295.5 164.6L294.3 165 293.3 164.4M293.2 166.4L291.9 164.7 289.7 164M292 167.3L291.5 167.4 290.7 168.3M293.8 169.7L294.2 170.5 295.3 170.6M293.8 171.2L293.3 171 292.2 170.7M294.3 172.2L296.3 171.3 297 171.6M294.9 174L296.1 174.1 297.4 173M294.7 177.2L293.7 177.6 293.3 178.1M296.1 179.6L297.3 180.1 298 180.1M298.6 178.5L299 178.3 299.8 177.5M301.2 180L302.2 179.8 301.8 178.7M302.6 180.7L302.7 179.2 302.7 178.1M303.9 181.3L303.1 181.9 303.1 182.9M305 182.3L304.9 180.5 304.2 179.2M304.4 183.3L305.5 183.2 307.7 182.7M303.9 186.2L305.8 184.6 307.4 184.1M304.3 187.5L304.6 188.7 304.2 190.3M303.3 188.7L304.8 190.1 305.4 191.8M301.2 191.1L300.2 189.4 299 188.2M300 192.5L300.2 193.7 301.8 195.3M303 192.6L303.8 194 304.6 194.6M304.6 192.9L305.5 191.6 307 191M306.5 194.8L307.5 194.5 307.2 192.8M307.5 196.2L308.4 197 308.9 196.9M307.3 198.8L305.5 200.2 304.1 200.3M308.1 199.8L307 199.8 305.3 200.6M309.7 200.9L311 200.8 311.2 199.2M309.8 203.3L311.1 202.7 313 200.9M310.9 206.3L310 205.2 309.1 205.3M311 207.9L313.6 208.2 314.9 209.6M311.1 208.8L309.7 208.1 307.7 208.4M313 210.8L314.4 210.1 315.6 210.2M312.2 212.7L309.4 213.2 307.9 212.9M312.3 214.1L311.3 212.4 311.4 211.2M315.2 213.7L315.4 215.6 314.2 216.5M317.5 211.2L317.6 212.5 318.8 212.5M318.4 208.1L319.8 208 319.9 208.5M318.9 206.3L320.8 206.7 321.9 207.6M318.5 203.8L316.7 205.7 315.6 206.6M319.3 201.6L319.7 202.7 320.9 204.2M318.9 198.2L317.4 197.4 315.4 195.4M318.9 196.2L320.1 196.3 320.9 196.5M319.6 194.6L317.1 194.5 315.7 194.3M320.5 193.7L318.1 192.5 317.1 192.2M318.8 192.1L319.6 191.4 320.9 190.4M317.2 191.2L315.8 190.2 315 190.2M317.7 190.3L318.6 191.6 318.5 192.3M319.9 188.3L319.8 189.2 319.7 190.9M320.8 187.8L321 187.5 319.8 185.8M319.7 185.7L321.4 185.7 321.9 184.7M318.2 183.5L317.1 184.9 315.2 186.7M317.4 181.2L318.6 182.4 320.4 183.1M318.7 180.7L318.7 182.6 318.2 183.3M320.9 180L321.6 177.9 323.1 176.5M320 178.5L320.1 178.6 319 179.9M319.1 177.7L317.8 178.8 317.3 179.1M319.6 174.8L319 176.2 319.3 176.9M320.2 174L319.5 174 318.9 173.2M319.9 173.1L320.7 172.9 320.6 171.6M320.8 172L320.5 174 320.2 175M322.4 172.1L323.3 170.7 325.3 169.5M323.9 174.1L322.1 172.7 321.1 171.4M323.6 176.8L323.4 176.8 322 178.2M324.1 178.1L324.9 177 325.3 175.1M325.8 179.5L324.5 179.3 324.2 179.9M324.7 181.3L325.1 182.2 325.7 182.6M323.7 183.7L322.8 182.7 321.4 181.7M324.2 186.8L325.5 185.6 325.8 183.6M325.5 188.2L325.1 190.5 324.1 191.5M326.4 188.7L326.5 186.6 325.9 185.8M327.6 189.2L327.1 188.3 326.7 186.2M326.8 190.5L328.3 190.6 328.7 190.9M326.4 193.9L327.9 193.1 328 192M327.1 194.8L325.4 195.9 323 196.8M327.5 195.7L329.3 195.8 330.1 196.3M327.4 198.9L328.7 198.7 329.2 197.6M329.1 201.5L328.5 202.8 328.5 204.3M330.8 203L331.7 202.2 332.9 202.6M329.2 206.1L328.2 205.1 327.2 203.4M328.6 208.9L329.4 209.3 331.2 208.5M328.9 211.1L330.2 210.1 332.8 209.5M330.2 212.5L331.1 213.5 332.6 213.4M330.7 214.4L330.9 214.7 332.3 216M332.9 212.8L331.9 214.1 331 214.8M332.3 210.3L333.5 210.3 335 209.2M332 208L333.7 206.9 334.3 206.6M331.2 205.1L331.7 206.4 331.3 207M332.8 204.6L333.1 202.7 334 200.3M334.7 203.6L333.1 203.2 332.6 202.1M336.8 200.9L338.1 200.4 339.6 201.2M338.6 200.7L338.5 203 339.2 204.2M340.5 201.1L340.4 199.6 340.3 197.5M341.5 200.1L341.1 199.1 339.8 198.6M341.1 196.8L343 194.8 343.7 193.5M342.1 193.7L342.3 194.2 343.1 196M343.9 193.1L344.4 193.7 344.5 195.3M343.5 191.3L344.7 192.6 345.7 192.6M344.3 190.4L344.6 188.8 345.2 187.9M347 190.5L348.4 189.4 351.1 189.4M347.8 187.5L348.3 188.5 350.1 189.2M347.9 185.3L348.3 185.6 350.1 185.8M348.7 184L347.7 181.9 345.9 181.1M350.5 183.2L350.3 184.3 351.5 184.6M352.4 182L355 181 356.7 180.9M351.6 180.8L352.7 180.5 354 180.7M350.7 178.3L351.2 177 352.2 176.7M353.2 177.3L354.4 175.7 354.6 173M354 176.1L354.7 175.1 356.6 173.8M352.8 174.8L352.8 174.1 352.8 172.5M351.7 173L352.6 172.4 354.4 170.7M351.2 171.1L350.1 171.4 348.4 171.3M351.3 169.7L350.3 169.8 348.8 170.6M350.9 166.8L349.8 168.4 347.9 168.9M350.3 165.6L351.6 165.3 353.2 163.8M349.8 164L348.4 164.8 346 166.4M351.2 160.8L349.9 160.2 347.6 158.7M351.7 159L350.2 159 347.8 159.6M351 158.1L352.7 157.1 354.7 155.6M349.2 157.1L348.5 159.5 347.7 160.8M350.1 155.3L350.7 155.4 352.6 155.4M350 152.3L351.1 151.8 352.1 151.6M350.2 151L349.9 151.6 348.9 151.7M351.4 150L352.3 152.3 354.1 153.6M352.2 149.5L353.4 150.1 354.6 151.5M354 148.2L356.4 150.1 357.7 150.5M353.3 145.7L352.1 145.5 351.8 146.3M354.3 144.2L355.1 144.9 357.1 145.7M355.4 143.9L355.8 143.7 356.2 142.7M356.8 142.3L358.9 141.5 360.1 140M356.1 139.4L356.2 137.9 355.3 136.6M357.5 136.4L357.1 135.8 357.3 134.5M358.8 139.3L357.9 138.4 356.6 137.8M360.2 140.8L359.1 141.2 358.8 142.5M360.7 142L361.9 142.1 364 143.3M360.4 143L359.5 142.6 358.9 143.4M360.4 143L359 143.7 358.7 144.1M360.7 141.9L362.5 142.1 365.1 142.5M361.6 139.5L360.9 139.4 360.6 138.1M364 138L364.6 139 364.6 139.4M366.4 139.7L366.9 138.5 366.3 136.3M368.8 141.9L370.1 140.2 370.7 138.7M369.6 144.4L368.4 144.2 367.1 145.2M370.6 146.4L369.4 148 367.9 148.3M370.4 149.7L369.5 148.9 368.2 149M369.6 150.8L367.8 151.7 365.3 151.6M370.5 152.6L372.9 153.1 374 152.6M370.8 153.5L371.6 153 371.3 151.9M368.5 155.6L367.6 154.4 365.8 154.1M368.4 157L369.4 155.6 369.7 154.1M368.7 158.5L368.3 157.2 367.8 154.8M367.7 159.7L367.8 161.3 368.3 161.7M366.7 161.9L367.1 161.5 368.4 161.4M367.8 164.2L368.4 162.9 367.8 162.5M366.7 167.1L368.7 167.6 371.1 167.1M366.1 169.5L365.1 168.9 365 167.6M364.4 171.8L363.9 172.7 364.2 174.1M365.2 172.9L364.6 175.3 363.5 177M364.9 175L363.8 173.8 364 173.1M365.7 176.5L364.7 176.8 364.8 178.2M366.5 178.2L365 179.8 364 180.3M367.5 180.2L369.3 179.2 369.8 178.6M368.7 181.3L369.4 180.8 370.4 180.9M369.9 183.1L371.3 184 372.4 185.7M371.4 181.9L369.6 180.5 368 179.7M372.6 180.5L373.2 179 372.8 178.7M373.7 180.6L375.2 182.4 376.1 182.9M375.1 179.7L373.7 178.6 373.6 178.4M376.7 176.9L378.3 178.9 378.7 179.5M378.7 176.1L379 176.7 379.1 178.3M382.1 174.8L382.6 176.8 382 178.7M383.1 174.6L383.4 175.8 384 176.3M385.6 175.2L387.5 174.9 388.7 173.5M386.2 174.8L386.9 174.7 387.6 176M387 172.1L385.7 173 384.3 172.6M389.2 170.5L388.5 169.1 388.9 167.5M392.2 170.7L391.9 169.1 392 168.3M393.5 170.7L394.1 171.6 394.8 172.4M395.8 170.3L395.3 168.9 395.7 167.3M397.8 169.7L397.4 169.4 397.9 168.2M399.1 170.1L399 171 400.2 173M401.8 169L400.3 168.5 399.6 168M402.8 167.6L404.4 168.5 405.6 168.5M401.5 165.4L401.1 166 400 167.3M402.9 163.3L403.1 164.4 402.9 166M403.1 162.2L403.9 162.1 404.7 161.8M402.2 161.4L400 162.1 399 163.2M401.6 159.6L403 159.5 404.1 160.4M402.7 156.3L403.1 157.3 403.3 158.8M402.7 154.4L403 156.2 403.3 157.4M401 154.2L402 156.3 402.2 157.2M400 154L400.2 152.3 399.9 151.7M400.5 152.2L402.1 152.9 402.8 152.9M397.3 151.2L395.8 151.2 394.6 152.4M397.3 149.8L398.3 150.9 398 151.2M398.3 149L397.9 147.7 397.9 146.1M396.9 147.4L397.1 147.7 396.7 149.1M398.4 145.9L398.6 147.6 397.8 148.7M399.5 144.1L400.5 143.5 402.6 144M401 141.4L400.7 140.4 400.7 139.3M399.8 140.6L399.9 142.3 400.3 142.9M397.8 138.3L395.7 138.3 393.6 137.7M398.3 135L399.4 134.2 401.5 133.1M398.4 133.1L399.9 133.1 401.8 132.3M397.3 132.1L398.7 130.9 400.5 129.6M396.7 129.4L397.9 128.1 399.8 127.5M395.6 127.6L395.9 128.2 395.3 129.2M393.3 125.7L393.7 125.5 395 125.5M391.1 126.5L390.7 125.1 389.6 124.8M389.3 127.7L388.5 129.4 387.6 130.9M388.9 126L386.6 126.5 384.7 127.5M388.4 124.3L387.7 125.1 386.9 125.7M435.6 298.9L438.4 301.6 439.9 303.8M437.1 296.5L437.7 299.7 438.9 302M436.3 295.3L436 293.6 437 291.8M434.1 293.8L434 292 435 290.3M433.6 292.5L435.3 292 436.8 290.5M433.9 291.2L433.9 294.5 433.5 297.6M435 290.6L436.9 293.3 437.7 295.3M435.3 288.7L435.8 285.8 436.7 282.1M434.6 287.4L436.7 286.9 438.1 285.2M434 286.1L435.5 286.1 437.8 284.7M435.5 284.8L434.5 288.1 434.8 290.2M436.4 284.2L437.8 285.2 437.9 286.8M437 283.4L437.6 280.3 439.5 278.5M435.6 280.8L438.9 281.6 441.1 281.6M435.1 278.8L436.8 277.7 439.4 276.5M434.5 276.9L436.3 275.9 437.4 275.2M434.8 275.8L437.1 277.4 439.1 277.7M436.7 275L438.2 276.3 440.1 277M439 274.8L437.3 277.8 434.4 279.7M441.5 274.2L441.3 272.1 440.9 269.5M439.1 272L441.5 270.4 445 268.8M437.6 270.2L438.1 269.3 437.7 267.1M440.2 269.7L442.9 271.7 445.1 273.6M441.1 269.7L439.1 271.9 438.6 275.3M443.2 269.5L446.1 268.4 449.2 267.7M440.6 268.4L438.9 265.8 438 263M439 267.7L439.3 264.6 439.7 262.2M437.1 266.8L436.4 265.2 436.5 263.7M434.2 265.6L434.6 263.5 434.6 262M436.7 265.2L437.9 267.6 440 270.8M438.9 265L440.2 268.1 441.1 270.3M439.9 263.9L442.4 263 445.7 262.9M441.7 262.9L440.4 265.3 439.5 266.5M442.9 262.2L444 261.2 444.3 259.5M440.2 260.2L441.9 259.5 444.1 258.6M440.5 258.9L442.4 260.6 445.6 262.4M439.7 256.8L439.6 253.1 440.5 250.2M438.6 255.4L441.7 256.5 445.2 256.4M440.7 254.4L439.7 257.2 439.5 261M440.8 253.7L444.3 254.1 446.5 254.6M439.5 251.5L440.8 249.1 440.8 248M441 251.6L440.8 252.5 441.2 254.3M442.2 251.9L441.8 254.6 441.1 256.7M443.3 252.1L441.8 252.3 440.9 253.6M445.5 252.5L443.5 254.6 441.4 257.8M445.7 251.7L447.9 251.8 449.3 250.5M445 250.2L448 249 451.1 248.6M444.1 248.4L445.7 248.8 446.5 249.5M445.8 246.2L447.6 246.3 448.9 247.2M445.6 245.6L446.5 242.8 447.3 239.7M445 245L445 243.1 445.6 242.5M443.8 243.6L444.1 245.8 444.6 247.7M445.1 243L447.2 245.5 449.1 248.1M446.6 242.4L448.1 243.8 448.4 245.9M446.6 240.8L449.4 241.2 453.1 241.5M447.8 238.6L449.5 239.2 450.5 240.4M448.3 237.2L446.7 233.5 445.6 231M446 236.7L445.9 234.8 445.7 231.7M443.5 236.2L443.5 234.6 443.5 233.7M441.8 234.9L443.1 233.5 445.5 232.1M442.6 233.7L443 237 444 240.4M444.5 232.8L444.8 235 444.2 236.4M445.4 232.4L444.7 234.7 444.1 237M446.7 231.7L447.5 234.3 448.8 235.9M444.6 229.5L445.6 228.9 447.3 227.3M444.2 227.7L442.6 230.8 440.5 233.2M447 226.9L445.6 230.3 445.2 232.8M448.5 226.2L447.4 222.9 447.6 219.6M447 225.7L449.5 224.5 450.9 222.2M445.4 225.1L443.6 223.3 443 220.1M443 224.3L443.3 223 443 220.9M440.1 223.3L441.3 221.4 441.7 220.7M442.7 222L442.9 225.1 442.1 228M445.3 220.4L446 222.4 447 224.9M448.2 219.1L450.4 221 453.3 222.4M448.6 218.4L450.5 219.2 452.9 220.6M448 215.8L451.3 214.9 453.4 214.4M447.4 214.7L449.9 215.3 451.1 215.5M450.5 214.8L449.2 216.5 448.6 218.2M453.3 214L456.4 213 459.4 212M452.8 212.5L453.3 210.5 453.6 209.2M450.7 210.7L450.4 209.3 450.5 207.9M449.6 209.5L451.7 208.8 453.9 208.9M450.1 207.3L449.3 208.9 448.6 209.9M451.6 206.5L454.7 206.2 456.7 204.7M451.2 204.3L452.3 207.2 453.4 210.9M452.5 203.7L454.1 204 455.5 204.9M451.7 201.8L453.9 201.5 455.5 200.8M452.3 200.4L452.6 202.4 454.1 204.4M454.8 199.4L453.7 200.4 453.9 202.1M455.1 197.4L456.1 196.5 457.3 195.3M453.5 195.3L455.6 193.5 457.2 191.4M455.8 195L454.7 196.4 454.8 197.9M456.8 195L458.3 195.9 459.8 197.9M457.6 195L456.4 196.6 455 198.9M457.5 191.8L458.9 191.6 461.1 190.4M460 190.6L460.9 192.4 460.7 194.8M460.4 189.8L462.3 189 464.6 188.3M458.5 187.6L459.7 185.1 461.2 183M457.2 186.1L459.4 184.4 460.5 182.8M458.9 186.2L456.3 187.9 453 189.9M460.6 186.8L459.6 188.8 458 189.6M462.8 187.3L465.2 187.1 467.2 187.7M462.3 184.8L465.4 184.3 469 183.2M461.4 182.2L463.7 181 466.7 179.5M461.2 181.4L463.8 180.3 467.3 178.1M460.7 180L464.3 179.4 466.9 179.1M461.4 180.6L459.2 182.1 456.2 183.4M463.2 182L461.1 184 458.9 184.5M464.4 182.9L462.8 184.3 460.7 184.4M465.3 183.7L463.5 184.9 461.7 187.1M466.4 184.6L463.4 185.5 461 185.6M468.3 186.1L468.1 188.8 468.1 191.4M467.9 184.9L471 184.3 474.4 183M466.6 181.8L468.8 180.3 470.6 177.9M466.2 180.8L467.6 178.7 469 177.9M465.9 179.1L467.1 180.3 468.8 180.4M466.1 177.4L467.1 176.3 469.2 176.3M469.1 178.4L467.8 180 466.5 181M471.7 177.9L473.9 180 476.9 181.5M471.7 177L474.4 176.2 477.9 175.4M471.8 174.4L474.9 174.3 477.9 174M471.8 172.8L473.6 171.5 475 171.2M474.1 174.3L473.2 176.8 472.4 178.4M476.9 176L475.5 177.4 474.5 178.2M479.9 175.5L479.8 178.5 480.5 181.9M480.8 174.6L481.6 175.2 481.9 177.1M481.8 173.6L482.9 174.9 485.2 177.5M482.5 174.9L481.4 172.2 479.3 170.8M482.4 176.6L480.1 178.3 478.7 180.7M482.4 177.6L480.5 176.6 478.7 176.2M482.8 179.5L483.7 180.9 485.3 182.8M484.9 178.7L485.9 180.2 486.6 182.2M486.3 179.3L484.3 180.3 482.3 181.7M487.3 179.8L485.5 181.7 483.2 183.2M488.2 178.7L490.2 177.9 492.1 177.1M487.7 176.7L491.2 175.7 493.6 175.6M487.8 175.1L488.8 176.4 488.9 177.5M488.7 175L491 177.9 492.4 180.2M490.2 174.7L490.3 177 490.6 179.2M491.5 172.8L493.6 175.1 494.8 178.5M493.3 172.2L491 172.6 488.6 173.6M494.7 172.8L492.5 176.6 491.6 179M494.6 170L496.4 168.1 497.8 167.2M494.6 169.2L496.6 170.8 497.9 172.1M496.6 169.8L497.8 172.2 497.9 174.1M479.8 203.3L481.4 203.5 482.8 203.3M478.8 201.5L479.4 199.1 480.7 198M478.3 200.7L480 198.3 481.5 197M481 200.5L482.1 202.9 482.7 204.6M483.6 200.5L485.3 200.6 487.9 201.5M484.6 200L486.7 200.5 487.6 201.5M485.4 199.5L485.5 201 485.2 202.1M484.6 198.4L484.4 197 484.5 194.7M483.1 195.8L483.8 197.6 484.4 198M483.5 194.5L485.1 192 486.3 190.7M483 193.2L484.9 193.8 485.8 193.8M483.9 192.1L484.8 194.1 486 195.4M483.4 189.2L482.8 187.6 482.6 185.8M481.4 188.2L479.6 186.1 478.2 184.4M480.4 188.1L480.7 185.8 481.8 183.5M479.1 187.9L479.8 185.9 481.2 184.9M478.2 187.2L479.8 187.2 482.7 188M480.6 185.4L480.9 187.7 480.6 189.3M480.7 183.7L481.1 181.1 482.4 179.5M479.6 180.9L480.2 178.2 481.1 176.6M480.2 180.5L480 181.6 478.7 184M481.2 180.3L481.4 180.9 482.7 182.4M482.3 180.6L482.5 181.7 482.7 183.1M484.7 181.8L483.6 183.2 482.9 184.7M485.9 182.3L484.9 182.7 484.4 184.4M486.3 182L487.9 182.8 489.5 182.4M486.2 178.6L488 178.4 490.2 177.6M486.2 177.3L486.8 176.6 488.1 175.2M487.1 174.1L484.9 175.6 483.7 177.5M489.9 175.5L489.6 176.5 488 176.9M492.8 175.6L495.3 176.6 496.5 176.4M495.4 174.7L494.2 176.7 492 178.3M495.4 172.8L496.4 171 497.3 170.2M496.6 171.7L497.2 173.2 498.3 175.2M498.8 171.7L500.7 171.4 501.6 169.8M498.3 169.1L499.5 168.3 501.5 166.6M497.7 167.6L498.4 166.5 500.5 166.7M497.8 166.9L498.6 168.5 498 169.8M498.7 167.2L497.9 168.6 497.1 169.3M499.7 167.4L498.1 168.1 496.9 169.1M503 168L502.7 169.1 502 171.2M504.7 167.7L504 168.3 503 169.7M503.3 165.5L504.5 164.7 505.1 163.6M502.7 164.8L503.2 164.3 504.9 165.1M502 162.9L501.4 165.3 500.7 166.7M504 162.2L505.3 161.9 507.9 162.4M505.2 160.7L506.1 159.5 506.9 159.3M505.1 159.7L505.9 160.7 507.8 161.1M505.5 157.3L506.3 159.5 506.9 160.7M507.4 155L507.7 156.6 507.3 157.9M506.7 152.4L507 150.9 508 149.2M508.7 152.1L508.2 153.4 508.7 154.3M511 152L512.2 153.4 514.1 155M510.8 149.2L512.5 150.3 513 151.4M511.1 146.9L513.4 146 514.2 146.4M510.6 145L510.5 142.5 511.3 141M509.4 143.4L511.2 142.1 513.3 141.5M510.4 142.8L508.9 144.4 508.7 144.9M512.4 142.8L513.7 144.1 513.9 144.7M513.6 142.2L514.8 142.1 516.2 141.7M513.1 141.3L514 142.1 516 142.1M512.6 140.4L512.9 139 513.4 136.5M512.6 139.2L513.7 138.7 514.5 138.2M514.9 137.5L514.7 138.2 514 140M513.7 136.4L515.4 136.6 517.5 136.1M513.2 135L512.6 135.4 512.1 136.8M516.6 135.1L514.6 136.7 513.2 138.2M519.1 135.1L520.6 136.7 521.4 138.7M518.8 134.5L520.5 132.8 522.3 132.2M517.1 133.2L517.2 131.2 517.4 128.7M516.2 132.5L517.4 131.5 517.2 130.2M515.4 130.8L517.5 131 519.2 130.6M515.8 129.7L516.3 132.3 517.1 134.5M517.4 127.6L519 128.1 520.2 129M515.9 126.6L518.2 126.2 520 124.8M515.2 125L516.3 124.6 517.9 125.3M510.2 296L508.6 296.3 508.1 297.5M509.5 293L509.9 292.9 511 292.1M511.9 293.7L512.9 292.5 514 292.2M513.2 294.1L513.7 292.3 513.5 291.8M514.5 294.1L513.2 292.6 512.8 292.3M515.4 291.9L514.2 290.2 514.4 288.7M516.1 291.1L515.2 290.6 514.6 290.5M517.8 291.5L519.2 289.7 519.7 287.6M520.3 293.6L521.2 292.8 522 293.1M520.6 292.7L520.3 292.7 518.6 292.5M520.8 291.6L520.1 290 518.9 288.4M520.7 288.7L519.8 288.6 518.7 288.9M521.4 286.6L521.1 285.3 520.6 283.1M523.2 285.5L521.7 284.7 521.4 284.8M524.2 283.6L523.1 284.6 522.2 285.5M523.6 280.4L522.9 280.3 521.3 279.4M524.1 279.3L524.4 277.8 523.7 277.6M524.9 279L525.4 277.3 525.4 275.8M526.2 278.5L524.6 279.3 523.6 279.7M526.5 276.4L525.6 277 524.7 277.4M526.6 275.3L525.3 273.1 524.4 271.9M526.7 274.5L526.5 274.1 525.5 272.8M528.6 275.4L528.3 274.1 528.9 273.5M531.3 276.4L531.5 274.9 532.7 273.8M534.4 275.9L535.2 274 535.1 272.3M534.8 274.6L533.4 274.6 532.2 274.1M535.8 273.7L535.4 271.4 536 270.5M538 274L536.6 273.8 536.4 273.8M538.7 272.4L538 271.5 537.8 271M541.9 272L540.9 271 539.1 270.3M543.2 271.2L542.8 270.7 541.7 271M544.2 270.4L543.6 269.3 543.8 268.7M546.7 270.1L547.6 269.2 548.6 268.7M549.1 271.5L550.6 271.5 551.1 270.4M549.7 269.9L548.2 268.7 547.6 266.1M550.5 267.8L550.5 266.8 551.1 266M551.8 267.5L552.4 267 552 265.4M553.9 265.6L552.4 265.6 551.6 265.8M555.4 266.6L556.4 265.1 558.6 264.2M557.8 268.8L556.1 268.3 555.7 269M558.4 266.2L557.2 265.5 555.8 265.4M558.3 265.3L558.9 266.2 559.6 267.4M557.7 265.9L558.7 265.3 560.1 265.7M556.7 266.9L557.7 267.3 557.8 268.1M556 267.5L556 268.5 557 268.7M556.2 269.1L557.6 268.4 558.3 267.8M557.3 271L559.7 271.4 561.5 271.4M555.1 272.3L555.6 274.3 556.2 275.3M553.1 272.7L554.9 273.9 556.3 274.7M551.5 273.7L551.3 272.9 551.5 270.8M553.6 276.1L554.7 275.5 555.2 275M554.4 277L555.5 277.7 557.9 279.1M552.6 278.7L553.9 277.1 555.9 276.7M554.9 279.1L554.8 278.6 553.6 278.1M555.6 276.6L553.8 276.8 553.1 276M556 276.1L555.2 275 555.1 273.4M559 276.5L558.1 275.3 557.3 274.4M560 276.1L561.6 274.6 562 272.3M562.3 275.6L562.1 274.4 561.5 272.8M563.6 275.9L564 274.7 565.8 274.8M564.8 274.9L563.1 272.8 562.6 271.5M565.6 273.9L566 271.4 567.1 270M567 273.7L568.1 272.6 569.3 270.8M569.8 272.4L570.1 271.5 570.3 270.1M572.3 271.7L572.6 270.4 571.6 269.9M573.7 271.8L576.4 271.6 577.9 270.5M575 272.4L575.9 272.5 578.1 272M576.9 274.7L577.1 274.9 578.5 274.5M579.4 274.8L578.4 273.1 577.5 270.8M580.2 272.9L579.5 271.4 578.3 271.1M582 271.3L581.8 268.9 581.7 267.4M583.8 268.9L583.8 266.7 584.8 265.9M585.8 268.9L584.9 267.8 584.8 267M587.5 269.4L588.4 269.1 590.6 267.7M589.3 268.6L588 267.1 587.1 266.1M590.9 267.3L591.4 267.1 591.3 265.7M591.9 267.3L592.8 265.8 592.5 263.4M591.8 265.2L591.3 265.7 590.4 265.7M592.8 262.4L591.7 261.6 591.9 259.9M595.6 261.2L597.1 260.3 597.6 258.6M597.9 260.6L597 257.9 596.4 256.6M598.7 257.7L598.4 255.1 598.4 253.2M600.3 258L599.5 256.4 599.1 255.9M602 257.1L599.9 257.3 598.2 256.2M603.3 255.1L601.8 254.1 601.7 253.6M604.3 254.6L603.7 252.9 602.9 251.9M607.2 253.5L605.6 253.8 604.7 253.2M608.3 251.7L607.7 250.9 606 249.4M610 249.5L608.9 251.3 606.9 251.7M610 248.6L608.9 249.6 607.3 250.3M611.3 246.2L611 245.4 611.2 243.2M610.8 245.3L610.1 246.6 610.1 248.7M610.2 243.8L609.7 243.3 608.7 241.8M611.3 242.6L610.7 241 610.8 238.4M611.2 239.3L609.8 239.9 609.5 239.3M611.2 238.9L612 239.7 614.2 239.6M611.4 240.1L613.1 241 614.8 242M611.9 240.8L612.7 241 613.3 240.1M612.5 241.4L612.9 239.3 612.7 237.7M613.1 243.7L613.6 244.7 614 246.3M610.6 245L610.7 246 610 247.5M609.2 245.7L611.7 246.8 613.5 246.6M608.5 246.2L607.4 245.5 607.5 244.5M610.7 246.9L611.4 246 612.8 245.8M613.1 247.3L611.7 246.3 610.6 245.6M614.2 247.1L613.4 244.8 612.4 243.6M617 247.1L618.4 247.5 621.1 247.4M617.1 248L619.4 248 621 248.8M617.3 249.4L619.5 250.8 620.5 252.1M618 249.5L615.9 247.7 615.1 246.4M618.8 249.1L618.4 247.6 619.2 246.5M619.5 248.7L621 247 622 246.5M620.3 249.8L621 248.1 620.7 247M621.4 251.7L622.7 249.9 623.1 249.5M622.9 253.4L622.2 252.3 620.3 250.8M624.4 251.7L622.6 251.5 621.5 251.1M625.3 250.7L624.3 248.9 624.5 248.1M626.1 250.1L625.9 248.7 625.9 245.9M628.1 247.5L626.4 245 625.6 243.9M628.7 247.5L629.5 245.6 629.9 243.8M629.2 248.5L629.7 248.4 631.1 248.1M629.8 249.5L631.2 249.3 633.7 249.6M631 251.7L632.2 251.5 632.3 250.9M631.3 250.8L629.7 250.7 627.2 249.7M632.1 248L630.2 248.7 629.6 248.6M633.4 248L634.5 248.8 635.7 248.5M634.7 249.6L637.3 248.9 638.7 248.8M637.2 250.4L638 248.4 638.7 247.3M638.3 250.5L637 249.4 636.8 248.6M640.4 249.4L639.9 247.7 639.6 246.3M643.4 248.8L644.3 247.5 645.4 247.1M644.3 249.2L643.4 248.3 643.6 247.6M645.9 248.1L646.1 246.9 645.2 245.5M647.1 247.6L646.3 246.5 645.3 245M648.4 247.5L647.7 247.3 647.2 246.1M650.8 248.4L650.9 247.7 652.2 246.9M652.9 247.4L652.2 245.9 652.2 245.7M654.5 246.3L654.2 244 655 243.1M655.4 246.2L655.5 245.2 654.4 243.6M657.5 245.4L657.2 244.2 656.2 243.8M658.6 244.1L657.7 243.3 657.1 241.2M660.6 241.4L658.9 240.7 657.8 241.2M662.4 243L662.7 242.8 664 241.8M663.2 243.6L663.9 243.9 665.1 242.9M664 243.4L663.7 242.3 663 240M666.8 242.4L666.8 241.4 667.1 240.3M668.3 240.4L667.4 238.9 666 238.1M669.1 239L668.5 238.7 666.9 238.3M669.7 238.4L670.4 237.3 670.5 235.9M672.1 238.6L671.2 238.7 670.5 237.8M674.1 237.3L673.5 236.1 672.8 235M676.6 235.4L676.9 234.5 677.8 234.2M678 235.7L677.8 234.5 677.5 234.1M679.4 235.9L678.7 234.8 678.2 233.4M680.8 233.9L679 234.1 677.9 233.6M681.3 232.4L682.3 231.7 683.1 230.4M683.6 231.8L682.9 231.5 681.6 230.6M684.8 230.5L685.4 229.6 686 227.3M686.1 229.9L684.9 229.4 685 228.6M688.4 228.7L688 227.6 687.6 225.7M690.6 226.8L690 225.9 688.8 224.9M691 196.9L692 195.1 693.1 194.3M692.7 199.6L691.6 200.5 691.5 200.6M692.7 202.1L693.5 202.2 693.2 203.7M692.6 203.6L692.7 205.5 691.4 206.4M691.9 207.1L691.8 206.3 691.5 205.5M691.6 209.3L690.1 209.3 688.3 210M693.7 210.9L694.4 210.6 695.6 210.4M693.8 213.4L695.1 213.1 696.1 213.5M691.6 214.4L691 212.9 691.2 211.1M691.8 216.7L691.6 217.5 690 218.2M691 219.4L689.2 219.9 687.7 220.6M292.9 288.7L291.2 287.7 290.5 287.5M290 290.4L288.8 290.5 286.5 289.4M288.9 291.5L286.2 292.4 284.6 293.4M291.9 293.7L291.1 295.6 290.6 297.5M292.8 295.3L292.7 292.7 293.3 291.1M289.9 295.9L288 295.9 286.5 295.4M289.9 296.9L288.1 297.4 287.3 297.3M290.7 298.7L290.4 299 289.7 300.6M292 300.6L290.4 302 290.3 302.2M290.9 301.9L290.4 300.8 290.7 299.8M289.5 302.8L289.6 302.1 289 300.1M288.2 303.4L286.6 303.5 286.3 302.5M286.2 305.9L285 305.5 283.9 304M283.9 306.8L282.2 308.7 281.4 310M285 309L284.4 309.9 283 309.8M285.5 310.7L284.6 308.2 284.5 307M284.4 310.5L286.4 309 287.9 308.1M282.5 310L283.6 309.8 285 308.7M281.6 310L281.9 309.4 281.3 307.8M279.9 310.1L277.5 310.5 275.5 310M279.5 311.6L276.7 310.3 275.3 309.6M278.8 313.6L277.5 312.3 276.1 311.3M278.9 316L278.3 317.5 276.9 319.2M281.3 317.6L281.4 319.7 281.2 320.7M283.1 319.5L280.5 319.9 278.9 320.1M283.7 320.7L284 318.1 284.3 316.4M282 321.1L280.8 319.5 281 318M279.7 321.8L279.4 320.4 279 319.9M277.8 323.2L276.3 325.4 275.4 326.8M278.5 325.3L276.8 324.8 274.8 324.3M277.4 327.3L276.7 325.1 276.9 324.2M276.6 328.6L274.4 329.6 272.2 330.4M279.6 330.2L278.9 332.1 279.2 334.1M280.5 330.7L279.9 330.5 278.2 331.6M280.7 331.4L279.4 329.9 279.4 328.2M279.5 331.8L278.3 331.2 276.1 330.4M276.5 333.4L275.4 331.5 274.9 330.3M275.9 335.3L273.9 335.9 272 337.2M275.4 336.6L275.5 334.2 274.8 333M273.6 338.6L272.7 340.3 270.9 341.6M273.9 342.3L273 341.3 271.6 340.3M274.9 343L273.2 344 270.4 344.3M277.1 344.5L276.4 347 275.2 348.3M278.2 345.6L276 346.6 273.5 347.2M279.7 347.1L278.1 348.4 277.6 349.4M279.9 345.5L281.4 345.8 284.1 345M279.3 341.9L281.6 341.2 284.3 341.2M279.1 340L280.4 339.6 281.5 339.8M279.8 338.9L279.6 339.8 279.3 341M281.7 340.6L281.7 342.1 281.2 343.7M284.3 341.9L283.2 340.9 282.5 340.3M283.8 344.8L283 342.5 281.7 341.1M286.3 345.8L285.6 346.6 285.9 348M287.3 347.1L285.5 346.9 284.4 347.7M286.8 348.9L284.3 348.8 282.5 349.6M286.8 351L287.6 351.6 288.4 352.8M290.3 350.3L290.6 350.9 291 352.8M291.4 350.8L290.6 350.8 288.4 350.9M291.1 353.3L289 354.2 288.2 356.2M292.4 355L292.5 357.1 293.5 359M296 355.3L297.2 356.7 297.4 358.6M294.5 357.6L292.6 358.5 290.3 358.3M293.5 359.1L292.2 358.1 290.1 356.4M293.1 362L291.1 362.2 289.4 363.2M294.9 364.8L293.6 365.5 291.8 365.5M294.2 368.5L293.4 367.7 292.5 366.5M295.5 371.5L294.7 372.2 293.5 373.4M296.4 372.7L295.3 373.6 294.9 373.2M297.7 374.3L296.5 375.3 294.7 376.4M298.1 376.8L296.4 376.2 295.6 376.1M294.7 378.4L293.1 378 291.5 376.2M293.2 378.7L292.4 377.8 290.7 377.2M290.5 379.5L289.9 378.7 288.6 378.3M289.7 381.2L288 382 286.6 382.1M289.6 383.5L290.6 383.5 290.8 382.4M287.5 383.7L287.7 382.8 288.9 380.9M288.2 386.5L286.4 386 284.6 386.3M286.2 387.2L286.8 386.3 287 384M287.5 387.6L286.6 388.3 285.6 389M290.6 386.1L290.9 388.1 291.3 389.4M294.1 386.5L292.3 386.9 291.5 388.4M294.2 387.9L291.7 388.1 290.5 387.4M295 389.8L295.8 390.3 295.5 391.4M297.6 391.9L296.5 393.4 294.5 394.2M296.3 395.8L295 395.1 294.9 393.5M294.2 396.4L293.4 395.9 292.6 394.4M294.3 397.9L293.2 397.8 292.9 397.1M294.5 399.7L294.5 399 295.6 398.2M291.3 400.4L291.8 398.4 291.1 396.9M291.8 404.2L290.5 403.9 290.2 404.1M290.6 404L291.4 403.8 291.6 402.3M289.4 403.8L289.7 401.8 290.4 400.9M286.1 402.9L287.1 402.5 287.3 401.2M286 405.1L284.8 405.3 283.6 404.5M285.5 407L286.1 405 286.1 403.4M286.1 410.7L285.1 410.3 284.3 411M286.1 412.5L284.5 412.6 282.6 412M284.7 413.8L284.5 411.8 284.4 411.2M282 414.8L281.2 412.8 280.9 411M279.7 414.4L279.9 413.5 279.1 411.7M278.4 415L277.1 414.5 275.3 412.8M433 294.3L434.6 297.1 434.9 298.9M432.9 295.3L433.6 294.7 435.5 292.8M435.9 295.4L436.4 293.2 437.9 290.1M438 297L439.3 297.8 440.6 297.5M437.6 299.1L439.2 299.4 441.6 299.3M437 301.2L439.8 302.1 442.6 303.2M435.3 302.1L437 303.2 438.6 305.1M434.4 302.2L432 304.3 430.5 306.7M432.8 303.2L432.1 305.8 431.4 308.8M431.3 303.6L430.9 305.9 431.1 308.7M430.5 304.5L432.1 304 432.5 302.3M430.8 305.1L433.4 306.3 435.8 306.4M432.1 307.1L433.8 304.8 436.3 302.9M431.6 308.7L432.8 310 434.6 311.3M430.8 309.9L431.5 311.9 432.8 315.2M430.1 310.9L431.6 313.3 434.2 315.3M430.1 312.3L431.5 313.4 433.8 314.1M431.3 313.1L430.1 310.9 429.9 309.9M433.8 312.7L433.4 310.1 432.8 307.3M435 312.6L434.4 310 433.4 307.8M436.6 312.3L438.3 310.9 440.2 310.2M436.4 313.3L438.3 313 439.3 312.4M436.3 315.2L436.1 312.6 435.3 311.1M438.6 317L438.6 314.6 438.9 312.5M438.9 318.8L439.7 320.2 441.1 321.9M438.4 319.7L440.4 320.9 441.6 322.4M437.8 321.5L438.2 319.3 439.7 317.3M440.5 322.5L438.7 321.1 437.1 319.1M442.7 323.7L444.4 323.5 445.8 323.3M444.8 325.2L447.1 323.5 449.1 323.2M445.4 327.4L445 324.9 445.7 323M446.5 327.3L448.6 325.5 450.2 323.5M446.9 328.3L449.6 328.7 452.6 329.1M445.9 330L448.1 329.8 449.9 330.6M445.2 331.1L447.2 331.9 449 333M444.4 332.2L447.5 332.2 449.6 332.1M443.5 333.7L445.2 334.9 446.2 336.2M444.1 333.4L445.4 331.2 445.5 329.5M445.2 332.7L444.2 332.6 442.4 331.6M446 332.2L444.9 331.9 443.9 330.6M447.5 331.3L446.6 330 446.1 328.8M448.2 330.9L447.1 329.2 445.1 326.3M448.8 330.5L446.9 328.4 445.7 327.5M449.8 330.5L451.5 329.4 453.2 328.7M449.7 332.6L451.1 334.2 451.8 336.3M449.2 333.5L450.9 334.1 452.6 334.7M449.4 335.3L448.1 333.4 447.5 331M452 335.8L451.3 333.8 450.8 330.5M452.7 338.4L453.1 339.8 453.8 340.8M451.4 340.9L452.7 342.8 454.9 345.4M449.7 342.8L450.3 344.2 452.2 346.8M452.1 343.7L451 341.6 449.8 340.1M453 344.1L454.2 341.7 454.5 340M453.6 344.9L455.5 344.1 457.9 342M454.3 346.1L456.4 345.4 458.9 346M454.8 347.4L456.8 346.1 457.7 346.1M455.9 348.5L455.4 346.5 456 343.7M456.1 349.7L458.1 351.4 461.2 351.9M455.7 351.7L458.9 352.7 460.8 352.8M455.6 353.6L456.1 354.3 457.3 355.6M456.8 354.2L456.5 353.1 456.8 351.5M458.7 353.9L458 353.1 456.1 352.1M461 352.6L460.1 352.8 458.3 352.7M462.6 351.2L460.6 349.7 459.5 347.4M465.4 350.6L466.6 349 467.3 348.2M465.2 353.2L466 356.2 468.2 358.2M465 354.4L466.7 354 469.5 354.3M465.2 356.2L464.5 354.9 462.4 352.2M467.1 356.4L465.1 355.2 464.3 353M467.2 355.3L464.5 356.9 462.2 357.6M466.5 353.5L464.1 354.7 462.9 357.3M465.9 351.7L463.9 352.2 461.5 353.4M465.4 350.3L462.7 349.1 460.2 348.6M466 350.3L465.3 348.2 466 347.4M468.1 351.5L469.1 350.2 469.1 348.4M469.4 352.2L468.4 348.7 468.8 346.6M471.5 351.4L469.5 353 468.4 353.6M471.1 350.8L470.5 353.5 470.8 356.6M470.5 350.2L469.5 350.7 468.3 351.5M469.5 349.1L467.6 349.8 466.3 351M468.9 348.4L468.5 350.3 468.6 351.3M467.6 346.8L469.9 345.7 471.5 344.5M468.5 347L467.2 345.7 466.8 344M470.1 347.3L468.8 346.8 468.6 345.3M472 347.7L473.9 346.7 476.3 345.3M473.4 346.4L472.5 345 471 343.7M476.1 346.2L473.3 345.1 471.8 343.7M475.9 345.3L474.1 344.4 471.6 342.7M475.7 344L474.1 343.1 471.7 343.2M476.8 342.7L477.5 339.8 477.2 337.1M259.4 445L259 444.1 257.7 443.4M261.9 444.3L262.8 443 262.2 442.2M264.7 445.5L267.1 444.6 268.2 444M263.1 447.8L262.7 446.2 262.6 445.4M259.5 447.7L258.4 449.1 258.5 449.5M259.6 450.2L258.1 450.1 255.8 451.1M258.4 453.1L256.7 453.8 254.6 453.4M257.6 454.8L256.6 453.9 255.1 452.9M256.4 454.9L257.6 453.4 258.1 451.3M259.2 454.9L259.7 456.1 259 458.3M260.1 455.9L259.9 454.3 260.1 453.9M261.1 456.7L261.2 456.3 261.8 455.1M262.4 457.4L263.4 456.2 265.7 455.7M262.9 459L262.4 458.8 261.3 458.6M265.4 461.6L263.9 463 262.8 463.6M268.3 460.5L267.4 460.2 266.9 459.2M270.2 460.4L268.2 460.8 266.9 462.1M272.5 462.3L273.9 462.3 274.2 461.7M273.6 464.9L272.3 464.5 269.9 464.8M275.7 466.3L274.7 467.1 273.4 468.4M278 466.4L279.7 467.3 280.1 468.6M278.3 467.2L279.1 466.2 280.8 466.1M277.7 469.1L278.6 469.5 278.5 470.7M277.9 472.6L279.1 471.4 279.1 470.6M278.3 474.9L279.6 474.2 281.3 474.2M276.7 475.6L276.3 477.3 275.9 477.8M274.8 476.3L275.3 476.5 275.8 478M273.9 478.7L274.3 479.8 276.1 480.2M272.6 480L272.7 480.8 273.6 481.1M271.3 479.9L272.4 480.6 272.8 481.4M268.4 477.8L267.7 475.8 267.4 475.1M267.3 478.7L269.4 478.6 270.2 478.4M268.2 482L266.2 481.9 264.8 481.9M268.5 483L270.9 483.4 272.3 483.9M270.3 484.4L270.5 483.6 271.3 483.3M271.6 484.5L273 482.7 273.3 481.9M273.3 484.8L272.7 485.9 272.4 488.1M272.9 486.4L271.8 485.3 270.6 483.7M274.8 487.9L275.2 489.1 275 489.5M274.6 491.6L273.9 492.2 272.8 492.4M273.2 491.7L272.3 493.2 272.6 494.8M271.7 491.4L272.6 490.3 273.8 489.9M271.6 493.8L270.6 493.1 268.6 493.5M950.5 314.7L951.9 317.1 952.8 318.3M948.5 314.2L947.7 317.1 947.3 320.2M946.8 313.8L947.5 315 948.6 316.4M946 313.6L945 315.2 944.7 316.3M945.6 314L948 313.3 950.1 313.8M945.6 315.8L947.2 314.9 949 314.6M946.7 317.4L947.6 316.4 948.9 315.6M948.3 319.5L949.7 316.5 950.7 313.6M948.6 320L947.9 321.9 947.5 323M947.1 320.6L946.5 324 944.9 326.5M945.5 321.4L947.7 323.2 949.6 324M944.8 323L946.3 320.3 946.5 318.3M945.4 325.1L945.4 326.6 946.4 328.6M944.7 326.2L946.1 327.7 948.8 328.5M944.3 327.7L945.5 327.8 947.2 327.4M943.5 328.7L943.4 331.8 942.2 334.9M942.1 330L943.6 329.5 944.9 328M941.8 331.1L943.9 332.9 945.5 334.3M941 331.4L943 333.3 945.1 334.5M939.7 331.8L940.9 332.3 942 332.8M938.2 332.2L939.7 333.6 941 336M936.4 332.6L936.6 335.5 938.2 338.2M936.6 334.2L939.8 332.9 941.7 332.1M937.7 335.7L939.2 335.3 940.3 335.1M938.2 337.1L940.6 338.2 944.2 339.8M937.1 338.6L939.1 341.5 940 344.9M935.8 338.4L936.6 341.7 936.7 344.3M934 338.2L933.3 340.6 933.4 343.2M933.7 339.1L935.2 337.5 937.2 336.6M935.4 341.2L935.2 338.3 936.1 335.3M936.2 342.4L936.6 344.2 936.9 345.2M934.1 342.5L934.4 344.8 935.1 348.4M933.1 342.6L934.9 343.7 935.8 346M933.3 344L934.9 344 935.9 343.6M933.5 344.6L936.2 344.3 939.1 344.6M933.6 346.2L935.3 347.3 935.7 349.2M933.3 346.9L934.1 348.9 934.7 350.9M933.1 348.5L934.6 346.9 937.3 346.5M933.1 349.8L935.4 351.8 937.6 352.4M932.6 349.9L933.5 351.9 933.7 353.8M930.9 349.5L930.6 352.2 929.7 355.5M930 349.2L929.3 351 928 352.5M929.3 349L930.1 350.9 930 352.5M928.6 348.8L926.9 350.2 925.5 352.4M926.3 348.6L928.2 350.8 929 353.8M925.2 348.7L926.3 348.5 927.9 349.5M925.5 349.3L925.7 348.2 927.1 346.7M926.5 351.7L929.6 349.5 931.6 348.2M926.8 354.2L929.6 355.4 933.6 355.2M925.5 354.8L927.1 357.9 928.5 361M924.7 354.8L922 357.1 920.6 360.1M924.8 356.6L926.4 355.8 928.3 355M925.4 358.3L926.6 357 927.1 356.3M923.5 358.6L925.5 360.7 926.9 363.1M923.2 359.1L923.7 356 925 352.8M923.8 360.5L927.5 361.7 930.1 363M924.3 361.6L926.3 361.4 927.7 361.7M924.6 362.4L927.6 361.8 931.2 362.3M924.1 362.7L922.4 364.3 921.1 365.3M922.5 362L921.2 363.5 920.2 366M920.1 361.2L921.6 362.1 922.8 364.3M918.4 361.3L917.7 362.2 916.6 363.4M917.6 361.7L920.3 361.8 923.4 361.5M918.1 362.3L920.6 361.7 922.5 360.5M919.3 363.7L921 360.6 922.3 358.2M920.3 365L922.5 365.7 925.7 366.2M919.2 365.4L918.5 367.1 917.2 367.8M918.5 365.3L919 368.4 920.1 370.8M917.4 365.2L916.5 367.5 914.6 370.3M916.5 365.7L918.4 365.8 919.5 365.4M916 367.2L916.5 370.3 918.4 373.6M914 366.7L913.7 369.8 914.2 373M913.2 366.5L911.7 367 910 368.9M912.8 367.1L914.4 367.3 917.4 366.5M914.1 368.8L916.1 368.8 917.7 368.1M915.6 370.7L917.8 370 919 368.9M916.5 371.9L917.1 370.8 917.8 369.6M916.6 372.8L915.1 374.4 914.3 375.2M915.5 372.6L915.2 373.8 914.8 375.6M913.3 372.1L914 373.9 916 376.3M912.5 372.8L914.7 374.8 916.8 377.9M912 373.4L914.4 375.9 916.5 377.5M911.6 375.3L912.1 376.4 913.9 376.9M910.7 376.2L913.5 378.8 915.8 380.6M908.4 377.5L909.3 378.8 909.4 380.5M907.2 379.2L908.1 382 908.5 384.1M907.4 381.6L909.4 382 910.6 382.9M907.8 383.1L911.2 384.8 913.9 386.4M906.9 383.8L909 385 911 387.1M906.2 383.9L909 386.4 911.1 388.5M905.3 383.9L903.2 387 901.5 389M903 383.8L903.8 385.6 905.4 387.9M901.7 385.1L903.1 386.2 905.8 387M900.1 387.1L902.5 387.8 904.6 389.3M899.2 387.5L898.7 390 898.7 393.5M898.6 388.1L899.7 389 901.9 388.8M898.1 389.7L900.9 391.3 903.5 392.1M899.3 390.2L900.6 387 901 384M901.5 390.7L903.5 389.6 905.7 387.6M902.6 391L901.7 388.7 899.8 386.5M900.8 392.9L902.4 392.7 904.9 392.9M900.9 394.7L904.1 394.8 907.3 394.4M900 396.5L902.2 398.1 903.5 398.8M899.5 397.2L900.6 399.6 902.4 402.8M898.7 399.6L901.4 397.7 904.1 396M899.3 401.6L900.9 402.1 902.5 401.3M900 402.5L901.7 403.5 903.8 403.3M900 403.8L902.3 404.6 904.1 405.4M898.1 404.9L899 402.6 900.4 401.7M898.2 406L900.9 406.5 904.8 406.3M898.7 407.3L901.4 405.9 904 404.1M899.5 408.4L903 408 905.7 406.4M901.4 408.8L902.1 407.8 903.8 406.9M902.1 408.9L901 406.5 899 402.9M903.1 409L904.4 405.3 905.7 402.6M902.8 410.3L903.2 411.3 904.2 413.6M901.4 411.6L901 413.5 901.9 415.8M900.3 412.8L903.9 412.1 906.4 412.8M899.7 414.1L901.2 416.6 902.1 419.8M900.5 415.2L901 412.2 900.8 408.8M902.8 415.8L903.2 414.5 904.3 413.1M901.2 417.5L904.8 416.6 907.8 417M900.7 418.9L900.3 418.2 900.6 416.2M902.9 419.8L905.2 417.1 907.5 415.3M902.2 421.3L903.6 423.4 904.2 426.6M902 422.6L901.6 420 900.3 417.7M903.9 423.2L904.9 421.8 905.8 419.9M904.9 423.4L907.3 422.1 909.1 419.9M906.1 425.5L908.3 425.1 910.8 423.7M905.4 427.4L905.6 430.7 905.8 434.3M903.9 428.5L903.1 431.5 903.2 434.4M903.4 430.6L906.3 433 908.4 434M905.2 432.3L905.8 429.9 906.7 428.8M905.8 432.8L906.8 430.9 908.9 430.3M905.9 433.6L907.8 434.8 909.4 436.4M904.4 434.9L905.6 434.1 907.5 433.3M905 435.3L905.4 433.2 904.9 432.6M906.5 436.7L908.8 437.7 912.4 439.6M906.7 438.4L908.6 437.4 910.8 436.7M907.4 439.1L909 439 911.5 439.7M908 439.8L908.9 439.3 910.8 440M907.6 440.7L908.7 441.6 909.8 443.2M907.1 441.8L909.8 441.8 912.3 441.1M654.2 311L655.5 310.2 656.7 309.3M655.8 308.6L654.6 310 652.6 310.9M657.3 307.2L655.8 307.9 655.3 308.5M660.2 307.2L661.2 307.8 661.1 309.2M661.8 304.5L662.7 304.5 664.1 304.8M663.1 301.4L662 300.6 661.9 299.3M665.7 301.4L665.2 302.9 663.9 303.2M666.9 300.1L668.6 300 669.9 300M667.3 298.5L666.3 299.5 665.9 299.4M669 296.8L668.6 298.6 667.9 299M670.6 298.4L668.7 298.5 667.8 299.8M672.6 299.7L671.7 299.5 671.2 298.9M672.1 300.8L673.4 299.7 674.6 299.5M671.4 302.3L672.7 302.7 673 301.9M673.5 303L672.4 302 671.4 301.7M675.8 302.9L673.9 301.2 673.4 300.1M674.8 304.8L675 305.1 675.4 306.7M673.7 306.1L673 307.5 673.4 307.8M675.7 305.6L676.3 307.2 675.5 308M676.9 305.3L677.5 307.8 677 309.3M678.3 305L677.3 306.9 675.9 308.1M679.9 305.5L679.3 304.3 678.9 304.2M678.9 307L679.7 307.9 681.3 309.8M679.3 308.8L678.9 309.8 678.7 311.9M677.5 310.3L678 311.5 679.4 312.3M676.9 311.5L678.5 310.3 679.1 308.1M679.7 311.7L679.7 311.3 680.5 309.6M678.9 314.8L679.2 314.9 680.7 316M679.4 316.1L680.2 316.5 680.3 317.9M680 317.6L680.1 315.9 678.9 315M682.6 316.4L682.4 314.9 681.4 314.6M684.6 314.4L685.3 313.8 686.9 313.7M688.3 312.5L688.5 314.3 689.5 316.1M687 309.5L686.2 310.9 685.4 313.5M690 309.1L690.4 307.9 689.9 306.7M691.9 312.9L692.9 313 694.6 313.3M693.4 313.9L694.1 315.5 694.2 315.9M696.2 312.8L698 312.5 700.4 312.5M697.3 311.6L697.2 310.5 697.6 308M699.9 309L700.4 307.1 700 304.6M701.6 310.6L702.7 310.7 703.2 309.8M702.8 312.9L703 311.8 704.6 311.6M702.9 315.3L703.5 317.9 702.7 319.2M704.1 317.3L705.6 316.7 707 316.6M704.8 319.6L704 318.3 702.2 317.2M705.2 315.8L702.7 315.6 700.9 315M706.4 311.9L706.1 313.1 707 313.9M709.5 314.3L709.8 312.7 710.8 311.2M710.3 312.6L707.9 312.6 706.6 313.5M713.6 311.5L713.9 310.2 714.7 308.8M716 309.4L717.2 309.2 718 310.2M716 306.7L717.4 308 718 310.2M717.9 306L717.4 305 716.3 303.3M719.8 303L720.1 303.5 721.2 304.1M721.8 304.7L723.3 304.8 723.7 304M722.7 306.6L723.9 304.4 725.4 303.5M724.4 308.3L725.9 308.5 727.5 307.4M725.8 310.9L727 309 728.3 307.3M729.6 310.2L728 309.4 727.7 308M731.3 310.2L729.7 308.2 729.3 307.1M730.7 314L730.9 312.7 730.3 312.5M730.7 315.5L730.1 315.9 729.4 316.8M732.1 317.4L731.4 319.9 731.6 321.3M735.6 320.2L737.2 320.3 739 319.7M736.4 323.3L735.7 323.4 734.2 324.1M737.5 325.6L739.1 324.2 740.5 323.8M739.1 327.2L740.4 327.4 741.6 328.1M738.1 328.3L737.9 328.9 738.8 329.9M738.7 330.7L737.7 331.9 736.8 334.2M739.1 332.2L740.4 333.1 740.7 333.5M739.3 334.1L737.2 336 736.2 337.2M737.7 336.6L739 338.3 739.1 339M736.7 339.8L735.1 339.9 734.6 339.3M734.8 341.2L734.9 340.8 735.1 339.7M733.1 344L735.1 343.9 737.1 345.1M731 345.2L731.1 346.8 731 347.3M728.1 345.1L726.8 345.4 726.8 344.2M906.3 440.7L906.4 441.9 907.9 442.2M906.6 443.7L907.2 443.4 909.2 442M908.2 446.8L909.4 447.1 911 448.3M909.3 449.2L910.8 448.6 912.2 448.9M911.1 450.7L911 450.2 911.1 448.4M912.2 451.3L913.5 449.4 913.6 448.3M913.2 452.6L913.3 452.2 914.6 451.7M914 454.2L915 452.9 916.1 451.4M915.3 455.1L917.6 453.6 918.5 453.1M917.2 457L917.2 455.7 918 455.4M918.6 458.8L918.1 457.3 916.7 455.8M919.9 458.7L919.9 457.2 921 455.9M921.9 460L922.9 458.3 924.7 457.2M922.9 461.1L923.8 460.6 925 460.1M925.3 461.2L923.8 460.8 922.2 459.3M928.7 460.3L928.3 459.8 928.7 458.8M930.2 459L929 457.8 927.6 456.1M932 458.9L931 456.5 930.4 455.3M933.9 457.5L932.9 456.3 932.1 456.4M935.2 455.9L934.5 455.2 933.7 454.3M938 453.7L938.6 452.7 938.1 451M939.2 452.1L938.3 452.5 936 452M940.5 449.6L940 450 939 449.3M941 448.7L940.4 447.7 939.2 446.6M943.7 448.2L943 446.6 941.9 446.2M943.7 445.5L943.3 445.3 942.3 444.5M944.5 443.4L945.5 442.1 946.3 440.9M946.5 441.9L945.8 442.3 944.2 442.4M946 440L945.2 439.4 943.6 437.8M947.2 438.3L945.9 437.8 945.7 438.4M949 436.3L948.2 435.7 946.6 435.3M950.3 434.8L948.6 434.6 947.7 435.4M462 353.9L461.2 353.6 459.8 352M462.8 353.4L460.5 353.5 457.9 352.8M463.5 352.3L463.3 351.8 461.7 350.2M462.8 349.5L460.7 348.6 459.3 347.7M462.5 348.9L460.4 349.2 459.4 348.5M462 347.5L460.3 349.4 459.7 350.9M462.8 347.3L462.1 344.4 460.9 342.8M464.4 347.8L466 345.4 466.8 344M465.7 347.3L465.1 349.3 463.3 351M465.1 346L463.4 344.9 461.8 344.4M465.3 344.9L465.3 343.1 464.3 342.6M468.3 345.7L468.5 343.8 469.1 343.2M468.8 345.6L467.8 347.2 467.9 348.3M467.7 343.5L466.9 343.7 465.8 344.3M467.2 342.5L467 343.1 465.7 344.9M467.3 339.8L467.3 338.5 468.3 337.1M469 340.5L468.2 338.9 467.6 338M469.8 340.8L470.3 339.2 470.6 337.1M472 341.7L473 339.3 473.9 338.1M472.1 340.5L471.5 341 470.2 341.4M470.8 338.1L470 339.8 468.1 340.2M473.4 338.2L473.8 337.1 473.4 334.9M475.2 336.8L474.3 334.9 473.3 333.7M475.2 335.1L472.3 335.8 470.8 337.3M475.7 333.9L475 331.4 474.8 330M476.6 333.1L477.3 331.3 477.3 329.2M478.7 332.4L476.3 330.9 474.9 329.8M478.8 331.6L477.9 329.4 476.1 328M478.3 328.7L477.6 328.9 475.7 328.1M478.6 327.3L479.1 327.1 480.5 326M481.4 328L481.8 325.7 481.3 323.6M482.4 327.9L481.3 325.5 479.9 323.5M483.4 326.6L482.7 327.9 481.3 329.9M482.8 325.5L481.1 325.8 479.2 326.4M481.8 323.2L480.5 324.6 478.1 324.7M481.8 322.9L480.9 321.4 480.2 318.6M484 323.4L482.8 322.7 483 321.5M486.7 323.9L485.7 322.4 484.4 322.1M487.5 322.2L485.9 321.6 485.5 320.5M487.8 321.1L487 318.4 485.6 317M490.1 320.7L491.3 318.4 491.5 317.4M491.2 321L489.6 319.1 489.1 317.3M493 321.3L491.4 320.4 488.9 319.9M491.7 319.2L490.3 319.9 488.6 320.8M490.6 317.3L489.3 318.1 486.6 317.6M490.3 315.8L488.9 317.2 487.5 317.8M491.2 313.5L490.7 314 489.2 313.2M493.7 312.3L493.4 310.9 493.4 309.2M494.6 311.2L493.9 309.7 493.2 308.4M496.2 310.3L497.4 307.3 497.2 305.7M499 310L497.5 308.9 495.7 309M499.6 307.9L498.2 307.3 496.7 307M499.7 306L499 303.9 497.9 301.6M500.7 306.1L501.9 304.5 503.4 302.8M501.8 305L499.9 306.8 499.2 309M501.5 303.5L498.8 304.3 497.5 306M501.7 301.7L503.6 300.5 504.4 298.3M503.3 302.5L504.2 302 505.3 302M504.3 303L504.7 300.3 503.8 298M505 303.3L505.2 301.8 505 301.2M507.1 301.5L505.8 300 504.9 300M507.4 300.1L505.6 300.2 505 300.5M508.6 300L509.5 298.5 510.8 298.3M509.5 300.1L508.8 299.7 508.5 298.1"/>
</g>
<text class="gl" x="407.5" y="161.3">-60</text>
<text class="gl" x="502" y="222.3">-45</text>
<text class="gl" x="607" y="264.7">-30</text>
<text class="gl" x="718" y="288">-15</text>
<text class="gl" x="849.5" y="290">0</text>
<text class="gl" x="698.3" y="134.5">75</text>
<text class="gl" x="637.6" y="425.8">60</text>
<text class="gl" x="582.2" y="688.8">45</text>
<g clip-path="url(#mapclip)">
<polygon points="805,722.4 807.4,729.2 814.5,729.3 808.8,733.6 810.9,740.5 805,736.4 799.1,740.5 801.2,733.6 795.5,729.3 802.6,729.2" fill="#000"/>
<path class="tr" stroke="#ed1c24" d="M804.8 732.1 C802.6 731.3 796.2 729.9 791.6 727.5 C787 725.1 784.2 723.5 777.2 717.7 C770.2 711.9 758.9 701.1 749.8 692.7 C740.7 684.3 732 675.9 722.7 667.2 C713.4 658.5 703.8 649.1 694.2 640.5 C684.6 631.9 674.2 623.9 665.2 615.5 C656.2 607.1 649.5 598.5 640 590 C630.5 581.5 618.3 572.7 608.5 564.8 C598.7 556.9 590.3 549.2 581.2 542.5 C572.1 535.8 562.1 530 553.7 524.5 C545.3 519 538.7 514.7 530.6 509.6 C522.5 504.5 513.7 498.9 505.3 494.1 C496.9 489.3 488.8 485.3 480 481 C471.2 476.7 461.2 472.2 452.5 468.2 C443.8 464.2 436 460.5 428 457 C420 453.5 412.1 449.9 404.7 447.3 C397.2 444.7 391.4 442.7 383.3 441.2 C375.2 439.7 364.2 439.2 356.1 438.5 C348 437.8 342.2 437.4 334.8 436.8 C327.4 436.2 317.9 435.4 311.8 434.8 C305.7 434.2 302.8 434 298 433.5 C293.2 433 288.1 432.8 283.2 431.7 C278.3 430.6 272.9 428.8 268.6 427.1 C264.3 425.4 260.8 423.3 257.3 421.5 C253.8 419.7 251.2 418.4 247.6 416.2 C243.9 414 239.1 410.5 235.4 408.2 C231.8 405.9 229.3 404.3 225.7 402.1 C222.1 399.9 217.6 396.8 213.6 394.8 C209.6 392.8 204.3 391.8 201.5 390.2 C198.7 388.6 197.8 386.3 196.5 385 C195.2 383.7 194 382.7 193.5 382.2"/>
<path class="tr" stroke="#ed1c24" d="M193.5 382.2 C195.1 382.9 198.9 384.9 203 386.3 C207.1 387.7 211.4 388.8 218 390.6 C224.6 392.4 234.5 395.2 242.7 397.3 C250.8 399.4 260.5 402 266.9 403.3 C273.3 404.6 275.3 404.5 281 405 C286.7 405.5 294.6 406.4 300.9 406.2 C307.2 406 313.4 404.7 319 403.8 C324.6 402.9 330.3 401.9 334.8 400.9 C339.3 399.9 343.3 398.7 346 397.8 C348.7 396.9 349.6 396.2 351 395.3 C352.4 394.4 353.3 394 354.7 392.4 C356.1 390.8 358.7 386.7 359.5 385.6"/>
<polygon points="777.2,712.3 772.5,721.3 781.9,721.3" fill="#ed1c24"/>
<polygon points="722.7,661.8 718,670.8 727.4,670.8" fill="#ed1c24"/>
<polygon points="665.2,607.3 658.1,620.9 672.4,620.9" fill="#ed1c24"/>
<polygon points="608.5,559.4 603.8,568.4 613.2,568.4" fill="#ed1c24"/>
<polygon points="553.7,519.1 549,528.1 558.4,528.1" fill="#ed1c24"/>
<polygon points="505.3,488.7 500.6,497.7 510,497.7" fill="#ed1c24"/>
<polygon points="452.5,460 445.4,473.6 459.6,473.6" fill="#ed1c24"/>
<polygon points="404.7,441.9 400,450.9 409.4,450.9" fill="#ed1c24"/>
<polygon points="356.1,433.1 351.4,442.1 360.8,442.1" fill="#ed1c24"/>
<polygon points="311.8,429.4 307.1,438.4 316.5,438.4" fill="#ed1c24"/>
<polygon points="283.2,423.5 276.1,437.1 290.3,437.1" fill="#ed1c24"/>
<polygon points="268.6,421.7 263.9,430.7 273.3,430.7" fill="#ed1c24"/>
<polygon points="247.6,410.8 242.9,419.8 252.3,419.8" fill="#ed1c24"/>
<polygon points="225.7,396.7 221,405.7 230.4,405.7" fill="#ed1c24"/>
<polygon points="201.5,382 194.3,395.6 208.7,395.6" fill="#ed1c24"/>
<polygon points="193.5,376.8 188.8,385.8 198.2,385.8" fill="#ed1c24"/>
<polygon points="218,385.2 213.3,394.2 222.7,394.2" fill="#ed1c24"/>
<polygon points="281,399.6 276.3,408.6 285.7,408.6" fill="#ed1c24"/>
<polygon points="319,395.6 311.9,409.2 326.1,409.2" fill="#ed1c24"/>
<polygon points="354.7,387 350,396 359.4,396" fill="#ed1c24"/>
<path class="tr" stroke="#2a3f9d" d="M804.8 732.1 C801.8 730.4 793.8 726.7 786.9 721.7 C780 716.8 773.4 711.3 763.7 702.4 C754.1 693.5 740.1 679.5 729 668.4 C717.9 657.3 709.4 648.6 697 635.9 C684.6 623.1 666.7 604.2 654.8 591.9 C642.9 579.5 634.6 571 625.7 561.8 C616.8 552.6 608.8 543.8 601.4 536.6 C594 529.5 588.6 524.6 581.2 518.9 C573.8 513.2 564.4 506.9 556.8 502.4 C549.2 497.9 542.8 495.2 535.6 491.9 C528.4 488.6 522.1 485.7 513.7 482.6 C505.4 479.5 495.7 477.2 485.5 473.3 C475.3 469.4 463.7 463.9 452.7 459 C441.7 454.1 428.3 448.1 419.5 443.9 C410.7 439.7 405.1 436.1 400 433.6 C394.9 431.1 393.8 431.4 388.6 428.7 C383.4 426 374.5 421 368.7 417.5 C362.9 414 358.4 411 353.9 407.6 C349.4 404.2 345.9 401.7 341.7 397.2 C337.5 392.7 332.8 385.5 328.6 380.7 C324.4 375.9 319.5 371.2 316.6 368.1 C313.7 365 312.8 364.3 311.2 361.8 C309.6 359.3 307.5 355.6 307 353 C306.5 350.4 307.3 348.3 308 346.5 C308.7 344.7 309.1 344.3 311.2 342.3 C313.3 340.3 316.2 336.9 320.7 334.3 C325.2 331.8 332.1 329.1 338.1 327 C344.2 324.9 351.7 322.9 357 321.6 C362.3 320.3 365.5 320.3 369.7 319.1 C373.9 317.9 377.8 316.9 382.3 314.4 C386.8 311.9 392.6 307.6 396.5 303.9 C400.4 300.2 402.6 297 406 292.2 C409.4 287.4 413.2 280.9 417.1 274.8 C421.1 268.8 425.8 260.5 429.7 255.9 C433.6 251.3 437.9 249.4 440.8 247 C443.7 244.6 445.8 242.5 446.8 241.6"/>
<path class="tr" stroke="#2a3f9d" d="M446.8 241.6 C446.6 241.4 445.9 241.4 445.3 240.5 C444.7 239.6 445.5 237.5 443.3 236.3 C441.1 235.1 435.6 233.9 432 233.1 C428.4 232.3 425.4 232.2 421.8 231.5 C418.2 230.8 415.1 231 410.1 229 C405.1 227 397.2 222.4 391.8 219.5 C386.4 216.6 381.7 213.8 377.6 211.6 C373.6 209.4 369.2 207.1 367.5 206.2"/>
<rect x="759.6" y="698.2" width="8.3" height="8.3" fill="#3b55a8" stroke="#2a3f9d" stroke-width="0.8"/>
<rect x="692.9" y="631.8" width="8.3" height="8.3" fill="#3b55a8" stroke="#2a3f9d" stroke-width="0.8"/>
<rect x="619.1" y="555.1" width="13.3" height="13.3" fill="#3b55a8" stroke="#2a3f9d" stroke-width="0.8"/>
<rect x="552.6" y="498.2" width="8.3" height="8.3" fill="#3b55a8" stroke="#2a3f9d" stroke-width="0.8"/>
<rect x="481.4" y="469.2" width="8.3" height="8.3" fill="#3b55a8" stroke="#2a3f9d" stroke-width="0.8"/>
<rect x="415.4" y="439.8" width="8.3" height="8.3" fill="#3b55a8" stroke="#2a3f9d" stroke-width="0.8"/>
<rect x="362.1" y="410.9" width="13.3" height="13.3" fill="#3b55a8" stroke="#2a3f9d" stroke-width="0.8"/>
<rect x="337.6" y="393.1" width="8.3" height="8.3" fill="#3b55a8" stroke="#2a3f9d" stroke-width="0.8"/>
<rect x="324.5" y="376.6" width="8.3" height="8.3" fill="#3b55a8" stroke="#2a3f9d" stroke-width="0.8"/>
<rect x="312.5" y="364" width="8.3" height="8.3" fill="#3b55a8" stroke="#2a3f9d" stroke-width="0.8"/>
<rect x="300.4" y="346.4" width="13.3" height="13.3" fill="#3b55a8" stroke="#2a3f9d" stroke-width="0.8"/>
<rect x="316.6" y="330.2" width="8.3" height="8.3" fill="#3b55a8" stroke="#2a3f9d" stroke-width="0.8"/>
<rect x="352.9" y="317.5" width="8.3" height="8.3" fill="#3b55a8" stroke="#2a3f9d" stroke-width="0.8"/>
<rect x="392.4" y="299.8" width="8.3" height="8.3" fill="#3b55a8" stroke="#2a3f9d" stroke-width="0.8"/>
<rect x="423.1" y="249.2" width="13.3" height="13.3" fill="#3b55a8" stroke="#2a3f9d" stroke-width="0.8"/>
<rect x="441.2" y="236.3" width="8.3" height="8.3" fill="#3b55a8" stroke="#2a3f9d" stroke-width="0.8"/>
<rect x="439.2" y="232.2" width="8.3" height="8.3" fill="#3b55a8" stroke="#2a3f9d" stroke-width="0.8"/>
<rect x="427.9" y="228.9" width="8.3" height="8.3" fill="#3b55a8" stroke="#2a3f9d" stroke-width="0.8"/>
<rect x="403.5" y="222.3" width="13.3" height="13.3" fill="#3b55a8" stroke="#2a3f9d" stroke-width="0.8"/>
<rect x="373.5" y="207.4" width="8.3" height="8.3" fill="#3b55a8" stroke="#2a3f9d" stroke-width="0.8"/>
<path class="tr" stroke="#50b132" d="M804.8 732.1 C801.8 729 792.9 719.8 786.9 713.6 C780.9 707.4 777.3 704.3 768.8 695 C760.3 685.7 746.6 670.2 735.9 657.9 C725.2 645.6 714.2 632.7 704.6 621.3 C695 609.9 685.9 599.4 678 589.5 C670.1 579.6 662.6 569.8 657.1 561.7 C651.6 553.6 649 548.2 644.8 540.8 C640.6 533.4 636.8 525.1 631.8 517.2 C626.8 509.3 621.2 500.9 614.9 493.6 C608.6 486.3 601 479.2 594 473.2 C587 467.2 580 462 572.8 457.5 C565.6 453 557.4 449.2 550.7 446.4 C544 443.6 540.1 442.9 532.7 440.7 C525.3 438.5 516.3 436.2 506.5 433.1 C496.7 430 482.9 425.3 473.9 422 C464.9 418.7 458.9 415.8 452.7 413.2 C446.5 410.6 439.5 407.4 436.9 406.2"/>
<path class="tr" stroke="#50b132" d="M436.9 406.2 C438.3 405.5 440.1 403.2 445.4 402.1 C450.7 401 461 400.7 468.5 399.6 C476 398.6 482.7 397 490.6 395.8 C498.5 394.6 507.3 393.2 515.9 392.6 C524.5 392 534.3 392.1 542.2 392 C550.1 391.9 556 392.1 563.4 392 C570.8 391.9 580 391.8 586.5 391.5 C593 391.2 597.2 390.6 602.2 390.2 C607.2 389.8 613.1 388.3 616.5 389 C619.9 389.7 620.6 392.4 622.4 394.4 C624.2 396.4 626.4 398 627.1 400.8 C627.8 403.6 626.5 408.4 626.6 411.3 C626.7 414.2 626.8 415.1 627.5 418 C628.2 420.9 630.2 426.8 630.8 428.5"/>
<path class="tr" stroke="#50b132" d="M630.8 428.5 C631.3 426.6 633.6 421.1 633.7 417.2 C633.8 413.3 631.8 409.2 631.5 405 C631.2 400.8 630.7 396.8 632 391.9 C633.3 387 636.8 381 639.3 375.9 C641.8 370.8 644.1 366.9 647.2 361 C650.3 355.1 654.6 346.6 657.8 340.5 C661 334.4 664.1 329.1 666.2 324.5 C668.3 319.9 669.8 314.6 670.5 312.6"/>
<circle cx="768.8" cy="695" r="4" fill="#65b844" stroke="#50b132" stroke-width="0.8"/>
<circle cx="704.6" cy="621.3" r="4" fill="#65b844" stroke="#50b132" stroke-width="0.8"/>
<circle cx="644.8" cy="540.8" r="6.5" fill="#65b844" stroke="#50b132" stroke-width="0.8"/>
<circle cx="594" cy="473.2" r="4" fill="#65b844" stroke="#50b132" stroke-width="0.8"/>
<circle cx="532.7" cy="440.7" r="4" fill="#65b844" stroke="#50b132" stroke-width="0.8"/>
<circle cx="473.9" cy="422" r="4" fill="#65b844" stroke="#50b132" stroke-width="0.8"/>
<circle cx="436.9" cy="406.2" r="6.5" fill="#65b844" stroke="#50b132" stroke-width="0.8"/>
<circle cx="445.4" cy="402.1" r="4" fill="#65b844" stroke="#50b132" stroke-width="0.8"/>
<circle cx="490.6" cy="395.8" r="4" fill="#65b844" stroke="#50b132" stroke-width="0.8"/>
<circle cx="542.2" cy="392" r="4" fill="#65b844" stroke="#50b132" stroke-width="0.8"/>
<circle cx="586.5" cy="391.5" r="6.5" fill="#65b844" stroke="#50b132" stroke-width="0.8"/>
<circle cx="616.5" cy="389" r="4" fill="#65b844" stroke="#50b132" stroke-width="0.8"/>
<circle cx="627.1" cy="400.8" r="4" fill="#65b844" stroke="#50b132" stroke-width="0.8"/>
<circle cx="626.6" cy="411.3" r="4" fill="#65b844" stroke="#50b132" stroke-width="0.8"/>
<circle cx="630.8" cy="428.5" r="6.5" fill="#65b844" stroke="#50b132" stroke-width="0.8"/>
<circle cx="633.7" cy="417.2" r="4" fill="#65b844" stroke="#50b132" stroke-width="0.8"/>
<circle cx="631.5" cy="405" r="4" fill="#65b844" stroke="#50b132" stroke-width="0.8"/>
<circle cx="632" cy="391.9" r="4" fill="#65b844" stroke="#50b132" stroke-width="0.8"/>
<circle cx="647.2" cy="361" r="6.5" fill="#65b844" stroke="#50b132" stroke-width="0.8"/>
<circle cx="666.2" cy="324.5" r="4" fill="#65b844" stroke="#50b132" stroke-width="0.8"/>
</g>
<line class="ln" x1="43.3" y1="819" x2="947.8" y2="819"/>
<line class="ln" x1="43.3" y1="1051" x2="947.8" y2="1051"/>
<line class="vd" x1="133.5" y1="848" x2="857.6" y2="848"/>
<line class="vd" x1="133.5" y1="877" x2="857.6" y2="877"/>
<line class="vd" x1="133.5" y1="906" x2="857.6" y2="906"/>
<line class="vd" x1="133.5" y1="935" x2="857.6" y2="935"/>
<line class="vd" x1="133.5" y1="964" x2="857.6" y2="964"/>
<text class="rl" x="902" y="856.1">2500</text>
<text class="rl" x="902" y="885.1">2000</text>
<text class="rl" x="902" y="914.1">1500</text>
<text class="rl" x="902" y="943.1">1000</text>
<text class="rl" x="902" y="972.1">500</text>
<text class="rl" x="91" y="826.5">3000</text>
<text class="rl" x="91" y="942.5">1000</text>
<text class="rl" x="91" y="998.5">30</text>
<text class="tl" x="170.8" y="1021.6">12</text>
<text class="tl" x="205.6" y="1021.6">06</text>
<text class="tl" x="240.3" y="1021.6">00</text>
<text class="tl" x="240.3" y="1045.4">02/14</text>
<text class="tl" x="275.1" y="1021.6">18</text>
<text class="tl" x="309.8" y="1021.6">12</text>
<text class="tl" x="344.6" y="1021.6">06</text>
<text class="tl" x="379.3" y="1021.6">00</text>
<text class="tl" x="379.3" y="1045.4">02/13</text>
<text class="tl" x="414.1" y="1021.6">18</text>
<text class="tl" x="448.8" y="1021.6">12</text>
<text class="tl" x="483.6" y="1021.6">06</text>
<text class="tl" x="518.3" y="1021.6">00</text>
<text class="tl" x="518.3" y="1045.4">02/12</text>
<text class="tl" x="553.1" y="1021.6">18</text>
<text class="tl" x="587.8" y="1021.6">12</text>
<text class="tl" x="622.6" y="1021.6">06</text>
<text class="tl" x="657.3" y="1021.6">00</text>
<text class="tl" x="657.3" y="1045.4">02/11</text>
<text class="tl" x="692.1" y="1021.6">18</text>
<text class="tl" x="726.8" y="1021.6">12</text>
<text class="tl" x="761.6" y="1021.6">06</text>
<text class="tl" x="796.3" y="1021.6">00</text>
<text class="tl" x="796.3" y="1045.4">02/10</text>
<text class="tl" x="831.1" y="1021.6">18</text>
<polygon points="147.5,808.8 149.9,815.7 157.2,815.8 151.4,820.3 153.5,827.3 147.5,823.1 141.5,827.3 143.6,820.3 137.8,815.8 145.1,815.7" fill="#000"/>
<polygon points="147.5,924.8 149.9,931.7 157.2,931.8 151.4,936.3 153.5,943.3 147.5,939.1 141.5,943.3 143.6,936.3 137.8,931.8 145.1,931.7" fill="#000"/>
<polygon points="147.5,981.8 149.9,988.7 157.2,988.8 151.4,993.3 153.5,1000.3 147.5,996.1 141.5,1000.3 143.6,993.3 137.8,988.8 145.1,988.7" fill="#000"/>
<path class="tr" stroke="#ed1c24" d="M147.7 992 C149.4 991.9 154.2 991.5 158 991.3 C161.8 991 166.9 990.5 170.6 990.5 C174.3 990.5 175.9 991.1 180 991.3 C184.1 991.5 190.8 991.7 195 991.8 C199.2 991.9 201.1 991.6 205.3 991.7 C209.5 991.8 214.2 992.2 220 992.3 C225.8 992.4 227.1 992.4 240.4 992.5 C253.7 992.6 273.4 992.7 300 992.7 C326.6 992.7 366.7 992.7 400 992.7 C433.3 992.7 476.7 992.7 500 992.7 C523.3 992.7 532.2 992.6 540 992.5 C547.8 992.4 544.8 992.3 547 992 C549.2 991.7 551.4 991.4 553.4 990.9 C555.4 990.4 557 989.4 559 988.8 C561 988.2 563 987.5 565.2 987.5 C567.4 987.5 569.8 988.2 572 988.8 C574.2 989.4 576.7 990.3 578.7 990.9 C580.7 991.5 582.3 991.8 584 992.1 C585.7 992.4 587 992.6 588.8 992.5 C590.6 992.4 592.8 992 595 991.5 C597.2 991 600.2 990.1 602.3 989.2 C604.4 988.3 605.8 987.1 607.5 986 C609.2 984.9 610.7 983.6 612.4 982.5 C614.1 981.4 615.8 980.3 617.5 979.5 C619.2 978.7 621 978.1 622.9 977.5 C624.8 976.9 626.8 976.2 629 975.7 C631.2 975.2 633.7 974.8 636 974.7 C638.3 974.6 640.8 974.9 643 975.1 C645.2 975.4 647 976 649.5 976.2 C652 976.4 655.6 976.6 658 976.4 C660.4 976.2 662 975.8 664 975.2 C666 974.6 667.9 974 669.8 973 C671.7 972 673.5 970.6 675.5 969.5 C677.5 968.4 679.7 967.1 681.6 966.3 C683.5 965.5 685.1 964.9 687 964.5 C688.9 964.1 690.5 963.9 692.7 963.9 C694.9 963.9 697.7 964.1 700 964.3 C702.3 964.5 704.5 964.9 706.6 964.9 C708.7 964.9 710.5 964.7 712.5 964.5 C714.5 964.3 716.6 964.1 718.4 963.9 C720.1 963.7 721.5 963.3 723 963.1 C724.5 962.9 726.2 962.7 727.5 962.9 C728.8 963.1 729.5 963.8 730.5 964.3 C731.5 964.8 732.6 965.9 733.5 966.1 C734.4 966.3 735.1 965.7 736 965.5 C736.9 965.3 737.6 964.8 738.6 964.9 C739.6 965 740.9 965.8 742 966.3 C743.1 966.8 743.8 967.6 745.3 967.8 C746.8 968 749.1 967.5 751 967.3 C752.9 967.1 755.2 966.1 756.5 966.6 C757.8 967.1 757.5 968.1 758.5 970.5 C759.5 972.9 761.3 978 762.5 980.8 C763.7 983.6 764.4 985.5 765.5 987.5 C766.6 989.5 766.5 991.6 768.9 992.5 C771.3 993.4 774.8 992.8 780 992.8 C785.2 992.8 789.4 992.8 800 992.8 C810.6 992.8 836.5 992.8 843.8 992.8"/>
<polygon points="170.8,984.8 166,994 175.6,994" fill="#ed1c24"/>
<polygon points="205.6,986 200.8,995.2 210.4,995.2" fill="#ed1c24"/>
<polygon points="240.3,984.1 233.2,997.7 247.5,997.7" fill="#ed1c24"/>
<polygon points="275.1,986.9 270.3,996.1 279.9,996.1" fill="#ed1c24"/>
<polygon points="309.8,987 305,996.1 314.6,996.1" fill="#ed1c24"/>
<polygon points="344.6,987 339.8,996.1 349.4,996.1" fill="#ed1c24"/>
<polygon points="379.3,984.3 372.2,997.9 386.5,997.9" fill="#ed1c24"/>
<polygon points="414.1,987 409.3,996.1 418.9,996.1" fill="#ed1c24"/>
<polygon points="448.8,987 444,996.1 453.6,996.1" fill="#ed1c24"/>
<polygon points="483.6,987 478.8,996.1 488.4,996.1" fill="#ed1c24"/>
<polygon points="518.3,984.3 511.2,997.8 525.5,997.8" fill="#ed1c24"/>
<polygon points="553.1,985.3 548.3,994.4 557.9,994.4" fill="#ed1c24"/>
<polygon points="587.8,986.7 583,995.9 592.6,995.9" fill="#ed1c24"/>
<polygon points="622.6,972 617.8,981.1 627.4,981.1" fill="#ed1c24"/>
<polygon points="657.3,968 650.2,981.6 664.5,981.6" fill="#ed1c24"/>
<polygon points="692.1,958.3 687.3,967.4 696.9,967.4" fill="#ed1c24"/>
<polygon points="726.8,957.3 722,966.4 731.6,966.4" fill="#ed1c24"/>
<polygon points="761.6,972.7 756.8,981.9 766.4,981.9" fill="#ed1c24"/>
<polygon points="796.3,984.4 789.2,998 803.5,998" fill="#ed1c24"/>
<polygon points="831.1,987.1 826.3,996.2 835.9,996.2" fill="#ed1c24"/>
<path class="tr" stroke="#2a3f9d" d="M147.7 935 C148 936.5 149.1 941 150 944 C150.9 947 151.8 950.2 153 953 C154.2 955.8 155.7 959 157 961 C158.3 963 159.7 964 161 965 C162.3 966 163.4 966.4 165 966.8 C166.6 967.2 168.3 967.2 170.6 967.5 C172.9 967.8 176.2 968.1 179 968.3 C181.8 968.5 184.6 968.7 187.4 968.6 C190.2 968.5 193 967.9 196 967.5 C199 967.1 201.1 966.8 205.3 966.1 C209.5 965.4 215.3 964.7 221.2 963.4 C227 962.1 234.2 960.4 240.4 958.4 C246.6 956.4 252.5 953.9 258.3 951.6 C264.1 949.4 270.7 946.8 275.1 944.9 C279.6 943 282.2 941.9 285 940.5 C287.8 939.1 289.3 938.4 292 936.8 C294.7 935.2 298 933 301 931 C304 929 307.1 926.3 309.8 924.6 C312.5 922.9 314.8 922.2 317 921 C319.2 919.8 321.2 919 323 917.5 C324.8 916 326.4 913.8 328 912 C329.6 910.2 330.7 908.4 332.4 906.5 C334.1 904.6 335.9 902.5 338 900.5 C340.1 898.5 342.2 896.4 344.9 894.3 C347.6 892.2 351 890 354 888 C357 886 360 884.3 362.8 882.5 C365.6 880.7 368.2 878.9 371 877 C373.8 875.1 377.3 872.9 379.6 871.4 C381.9 869.9 383.3 869 385 868.3 C386.7 867.6 388.1 867.2 389.8 867.3 C391.5 867.4 393.3 868.1 395 869 C396.7 869.9 398.4 871.2 399.9 872.4 C401.4 873.6 402.6 874.6 404 876 C405.4 877.4 406.6 878.5 408.3 880.8 C410 883.1 412.6 886.9 414.4 889.9 C416.2 892.9 417.5 895.8 419 898.5 C420.5 901.2 421.9 903.7 423.5 906.1 C425.1 908.5 426.8 910.9 428.5 913 C430.2 915.1 431.5 916.8 433.6 918.5 C435.7 920.2 438.4 922 441 923.5 C443.6 925 446.9 925.9 449.2 927.3 C451.5 928.7 453.1 930.8 455 932 C456.9 933.2 458.9 934 460.7 934.3 C462.5 934.5 464 934 466 933.5 C468 933 469.5 932 472.5 931.4 C475.5 930.8 480.6 930.2 484 929.7 C487.4 929.2 490.1 928.8 493 928.2 C495.9 927.6 498.4 926.9 501.2 926.3 C504 925.7 507.1 924.9 510 924.5 C512.9 924.1 515.9 923.6 518.7 924 C521.5 924.4 524.3 925.8 527 927 C529.7 928.2 532.1 929.4 534.9 931.4 C537.7 933.4 540.9 936.3 544 939 C547.1 941.7 550.9 945.4 553.4 947.6 C555.9 949.8 557 950.9 559 952 C561 953.1 563.4 954 565.2 954.5 C567 955 568.3 955.1 570 955.2 C571.7 955.3 573.5 955 575.3 955 C577.1 955 578.9 955.2 581 955.5 C583.1 955.8 585.5 956.6 588.2 957 C590.9 957.4 594.1 957.7 597 958 C599.9 958.3 602.9 958.6 605.7 959 C608.5 959.4 611.1 959.7 614 960.3 C616.9 960.9 620.2 961.8 622.9 962.4 C625.6 963 627.8 963.9 630 964.2 C632.2 964.5 634.2 964.6 636 964.4 C637.8 964.2 639.3 963.7 641 963 C642.7 962.3 644.4 961.5 646.2 960 C648 958.5 650 956.4 652 954 C654 951.6 656 948.4 658 945.6 C660 942.8 662 939.9 664 937 C666 934.1 667.9 931.2 669.8 928 C671.7 924.8 673.5 920.9 675.5 917.5 C677.5 914.1 679.7 910.3 681.6 907.8 C683.5 905.3 685.1 903.7 687 902.5 C688.9 901.3 690.9 900.8 692.7 900.4 C694.5 900 696.2 900.2 698 900.2 C699.8 900.2 701.5 900.4 703.2 900.6 C705 900.8 706.8 901.4 708.5 901.6 C710.2 901.8 711.4 902 713.3 901.8 C715.2 901.6 717.6 901.1 720 900.3 C722.4 899.5 725.2 898.4 727.5 897 C729.8 895.6 731.9 893.4 734 892 C736.1 890.6 738.5 889.1 740.3 888.4 C742.1 887.7 743.3 887.8 745 887.7 C746.7 887.6 748.6 887.8 750.4 887.6 C752.2 887.4 754 887 756 886.5 C758 886 760.5 884.8 762.5 884.9 C764.5 885 766.1 886.1 768 887 C769.9 887.9 772 889.3 774 890.3 C776 891.2 778 892 780 892.7 C782 893.4 783 894 785.8 894.3 C788.6 894.6 793.7 894.3 796.9 894.5 C800.1 894.7 802.1 895 805 895.3 C807.9 895.6 811.5 896 814.5 896.2 C817.5 896.4 820.1 896.5 823 896.5 C825.9 896.5 829.7 896.2 831.7 896 C833.7 895.8 833.9 895.4 835 895 C836.1 894.6 836.6 894.2 838.1 893.4 C839.6 892.5 842.8 890.5 843.8 889.9"/>
<rect x="166.7" y="963.4" width="8.3" height="8.3" fill="#3b55a8" stroke="#2a3f9d" stroke-width="0.8"/>
<rect x="201.4" y="961.9" width="8.3" height="8.3" fill="#3b55a8" stroke="#2a3f9d" stroke-width="0.8"/>
<rect x="233.7" y="951.8" width="13.2" height="13.2" fill="#3b55a8" stroke="#2a3f9d" stroke-width="0.8"/>
<rect x="270.9" y="940.8" width="8.3" height="8.3" fill="#3b55a8" stroke="#2a3f9d" stroke-width="0.8"/>
<rect x="305.7" y="920.4" width="8.3" height="8.3" fill="#3b55a8" stroke="#2a3f9d" stroke-width="0.8"/>
<rect x="340.4" y="890.4" width="8.3" height="8.3" fill="#3b55a8" stroke="#2a3f9d" stroke-width="0.8"/>
<rect x="372.7" y="865" width="13.2" height="13.2" fill="#3b55a8" stroke="#2a3f9d" stroke-width="0.8"/>
<rect x="409.9" y="885.3" width="8.3" height="8.3" fill="#3b55a8" stroke="#2a3f9d" stroke-width="0.8"/>
<rect x="444.7" y="923" width="8.3" height="8.3" fill="#3b55a8" stroke="#2a3f9d" stroke-width="0.8"/>
<rect x="479.4" y="925.6" width="8.3" height="8.3" fill="#3b55a8" stroke="#2a3f9d" stroke-width="0.8"/>
<rect x="511.7" y="917.4" width="13.2" height="13.2" fill="#3b55a8" stroke="#2a3f9d" stroke-width="0.8"/>
<rect x="548.9" y="943.1" width="8.3" height="8.3" fill="#3b55a8" stroke="#2a3f9d" stroke-width="0.8"/>
<rect x="583.7" y="952.8" width="8.3" height="8.3" fill="#3b55a8" stroke="#2a3f9d" stroke-width="0.8"/>
<rect x="618.4" y="958.2" width="8.3" height="8.3" fill="#3b55a8" stroke="#2a3f9d" stroke-width="0.8"/>
<rect x="650.7" y="940" width="13.2" height="13.2" fill="#3b55a8" stroke="#2a3f9d" stroke-width="0.8"/>
<rect x="687.9" y="896.5" width="8.3" height="8.3" fill="#3b55a8" stroke="#2a3f9d" stroke-width="0.8"/>
<rect x="722.7" y="893.1" width="8.3" height="8.3" fill="#3b55a8" stroke="#2a3f9d" stroke-width="0.8"/>
<rect x="757.4" y="881" width="8.3" height="8.3" fill="#3b55a8" stroke="#2a3f9d" stroke-width="0.8"/>
<rect x="789.7" y="887.9" width="13.2" height="13.2" fill="#3b55a8" stroke="#2a3f9d" stroke-width="0.8"/>
<rect x="826.9" y="891.9" width="8.3" height="8.3" fill="#3b55a8" stroke="#2a3f9d" stroke-width="0.8"/>
<path class="tr" stroke="#50b132" d="M147.7 819 C148.4 822.8 150.6 834.8 152 842 C153.4 849.2 154.8 856.6 156 862 C157.2 867.4 158.2 871.8 159.5 874.5 C160.8 877.2 162.6 878 163.8 878.3 C165.1 878.5 165.9 876.9 167 876 C168.1 875.1 169.1 873 170.6 872.8 C172.1 872.6 174.3 874.5 176 875 C177.7 875.5 178.8 876 181 876 C183.2 876 186.3 874.2 189 875 C191.7 875.8 194.3 878.6 197 881 C199.7 883.4 202.8 888.6 205.3 889.2 C207.8 889.8 209.9 885.6 212 884.5 C214.1 883.4 215.8 882.7 218 882.5 C220.2 882.3 222.8 882.8 225 883.5 C227.2 884.2 228.9 884.8 231.5 886.5 C234.1 888.2 237.3 890 240.4 893.6 C243.5 897.2 246.4 902.4 250 908 C253.6 913.6 257.8 921 262 927 C266.2 933 271.8 941.5 275.1 944.2 C278.4 947 279.5 944 282 943.5 C284.5 943 287 942.4 290 941.5 C293 940.6 296.7 939.3 300 938 C303.3 936.7 306.5 935 309.8 933.8 C313.1 932.5 316.6 931.5 320 930.5 C323.4 929.5 327 928.3 330 927.5 C333 926.7 335.5 926 338 925.5 C340.5 925 342.6 924.6 344.9 924.6 C347.2 924.6 349.5 925.1 352 925.3 C354.5 925.5 357.5 925.6 360 925.7 C362.5 925.8 364.8 925.5 367 925.8 C369.2 926.1 370.9 926.1 373 927.5 C375.1 928.9 377.9 931.7 379.6 934.1 C381.3 936.5 381.9 939 383 942 C384.1 945 385.3 948.7 386.5 952 C387.7 955.3 388.8 958.8 390 962 C391.2 965.2 392.5 968.8 394 971.5 C395.5 974.2 397.2 976.2 399 978 C400.8 979.8 402.4 980.9 405 982 C407.6 983.1 411.2 983.9 414.4 984.7 C417.6 985.5 420.8 986.5 424 987 C427.2 987.5 429.5 987.7 433.7 988 C437.9 988.3 443.6 988.7 449.2 989 C454.8 989.3 461.6 989.7 467.4 990 C473.2 990.3 478.6 990.5 484 990.8 C489.4 991 494.2 991.2 500 991.5 C505.8 991.8 509.8 992.2 518.7 992.4 C527.6 992.6 539.9 992.7 553.4 992.8 C566.9 992.9 582.6 992.9 600 992.9 C617.4 992.9 636.8 992.9 658 992.9 C679.2 992.9 704.4 992.9 727.5 992.9 C750.6 992.9 783.8 993 796.9 992.9 C810 992.8 803.3 992.8 806 992.5 C808.7 992.2 810.8 991.6 813 991.2 C815.2 990.8 817.6 990.1 819.5 990.3 C821.4 990.5 822.6 992 824.6 992.3 C826.6 992.5 829.8 992.1 831.7 991.8 C833.6 991.5 834.9 991.1 836 990.5 C837.1 989.9 837.8 990.6 838.5 988 C839.2 985.4 839.4 981.5 840.3 975 C841.2 968.5 843.2 953.6 843.8 949.3"/>
<circle cx="170.8" cy="872.9" r="4" fill="#65b844" stroke="#50b132" stroke-width="0.8"/>
<circle cx="205.6" cy="889" r="4" fill="#65b844" stroke="#50b132" stroke-width="0.8"/>
<circle cx="240.3" cy="893.5" r="6.4" fill="#65b844" stroke="#50b132" stroke-width="0.8"/>
<circle cx="275.1" cy="944.2" r="4" fill="#65b844" stroke="#50b132" stroke-width="0.8"/>
<circle cx="309.8" cy="933.8" r="4" fill="#65b844" stroke="#50b132" stroke-width="0.8"/>
<circle cx="344.6" cy="924.6" r="4" fill="#65b844" stroke="#50b132" stroke-width="0.8"/>
<circle cx="379.3" cy="933.8" r="6.4" fill="#65b844" stroke="#50b132" stroke-width="0.8"/>
<circle cx="414.1" cy="984.6" r="4" fill="#65b844" stroke="#50b132" stroke-width="0.8"/>
<circle cx="448.8" cy="989" r="4" fill="#65b844" stroke="#50b132" stroke-width="0.8"/>
<circle cx="483.6" cy="990.8" r="4" fill="#65b844" stroke="#50b132" stroke-width="0.8"/>
<circle cx="518.3" cy="992.4" r="6.4" fill="#65b844" stroke="#50b132" stroke-width="0.8"/>
<circle cx="553.1" cy="992.8" r="4" fill="#65b844" stroke="#50b132" stroke-width="0.8"/>
<circle cx="587.8" cy="992.9" r="4" fill="#65b844" stroke="#50b132" stroke-width="0.8"/>
<circle cx="622.6" cy="992.9" r="4" fill="#65b844" stroke="#50b132" stroke-width="0.8"/>
<circle cx="657.3" cy="992.9" r="6.4" fill="#65b844" stroke="#50b132" stroke-width="0.8"/>
<circle cx="692.1" cy="992.9" r="4" fill="#65b844" stroke="#50b132" stroke-width="0.8"/>
<circle cx="726.8" cy="992.9" r="4" fill="#65b844" stroke="#50b132" stroke-width="0.8"/>
<circle cx="761.6" cy="992.9" r="4" fill="#65b844" stroke="#50b132" stroke-width="0.8"/>
<circle cx="796.3" cy="992.9" r="6.4" fill="#65b844" stroke="#50b132" stroke-width="0.8"/>
<circle cx="831.1" cy="991.8" r="4" fill="#65b844" stroke="#50b132" stroke-width="0.8"/>
<line class="ln" x1="43.3" y1="992.8" x2="947.8" y2="992.8"/>
<line class="tk" x1="170.8" y1="992.8" x2="170.8" y2="998.5"/>
<line class="tk" x1="205.6" y1="992.8" x2="205.6" y2="998.5"/>
<line class="tk" x1="240.3" y1="992.8" x2="240.3" y2="1004"/>
<line class="tk" x1="275.1" y1="992.8" x2="275.1" y2="998.5"/>
<line class="tk" x1="309.8" y1="992.8" x2="309.8" y2="998.5"/>
<line class="tk" x1="344.6" y1="992.8" x2="344.6" y2="998.5"/>
<line class="tk" x1="379.3" y1="992.8" x2="379.3" y2="1004"/>
<line class="tk" x1="414.1" y1="992.8" x2="414.1" y2="998.5"/>
<line class="tk" x1="448.8" y1="992.8" x2="448.8" y2="998.5"/>
<line class="tk" x1="483.6" y1="992.8" x2="483.6" y2="998.5"/>
<line class="tk" x1="518.3" y1="992.8" x2="518.3" y2="1004"/>
<line class="tk" x1="553.1" y1="992.8" x2="553.1" y2="998.5"/>
<line class="tk" x1="587.8" y1="992.8" x2="587.8" y2="998.5"/>
<line class="tk" x1="622.6" y1="992.8" x2="622.6" y2="998.5"/>
<line class="tk" x1="657.3" y1="992.8" x2="657.3" y2="1004"/>
<line class="tk" x1="692.1" y1="992.8" x2="692.1" y2="998.5"/>
<line class="tk" x1="726.8" y1="992.8" x2="726.8" y2="998.5"/>
<line class="tk" x1="761.6" y1="992.8" x2="761.6" y2="998.5"/>
<line class="tk" x1="796.3" y1="992.8" x2="796.3" y2="1004"/>
<line class="tk" x1="831.1" y1="992.8" x2="831.1" y2="998.5"/>
<rect class="bx" x="43.3" y="123.1" width="904.5" height="1055.5"/>
<g transform="translate(26.5 0) scale(1.08 1) rotate(-90)">
<text x="-629" y="0" font-size="30">Source</text>
<text x="-471.5" y="0" font-size="30">at</text>
<text x="-420" y="0" font-size="30">43.32 N</text>
<text x="-282.5" y="0" font-size="30">5.39 W</text>
</g>
<g transform="translate(26.3 0) scale(1.02 1) rotate(-90)">
<text x="-979.3" y="0" font-size="30.5">Meters AGL</text>
</g>
<text x="8" y="522.4" font-size="25.8" style='font-family:"DejaVu Sans", sans-serif;stroke:none'>★</text>
<text class="t21" x="88.3" y="1071.1" textLength="145.6" lengthAdjust="spacingAndGlyphs">Job ID: 130642</text>
<text class="t21" x="396.2" y="1071.1" textLength="395.3" lengthAdjust="spacingAndGlyphs">Job Start: Thu Apr 12 16:52:55 UTC 2018</text>
<text class="t21" x="88.3" y="1091.3" textLength="669.2" lengthAdjust="spacingAndGlyphs">Source 1 lat.: 43.320000&#160; lon.: -5.390000&#160; hgts: 30, 1000, 3000 m AGL</text>
<text class="t21" x="88.3" y="1131.3" textLength="291" lengthAdjust="spacingAndGlyphs">Trajectory Direction: Backward</text>
<text class="t21" x="416.5" y="1131.3" textLength="164.5" lengthAdjust="spacingAndGlyphs">Duration: 120 hrs</text>
<text class="t21" x="88.3" y="1151.2" textLength="336.1" lengthAdjust="spacingAndGlyphs">Vertical Motion Calculation Method:</text>
<text class="t21" x="467.5" y="1151.2" textLength="217.5" lengthAdjust="spacingAndGlyphs">Model Vertical Velocity</text>
<text class="t21" x="88.3" y="1170.8" textLength="432.7" lengthAdjust="spacingAndGlyphs">Meteorology: 0000Z 14 Feb 2016 - GDAS0p5</text>
</svg>
</body>
</html>
